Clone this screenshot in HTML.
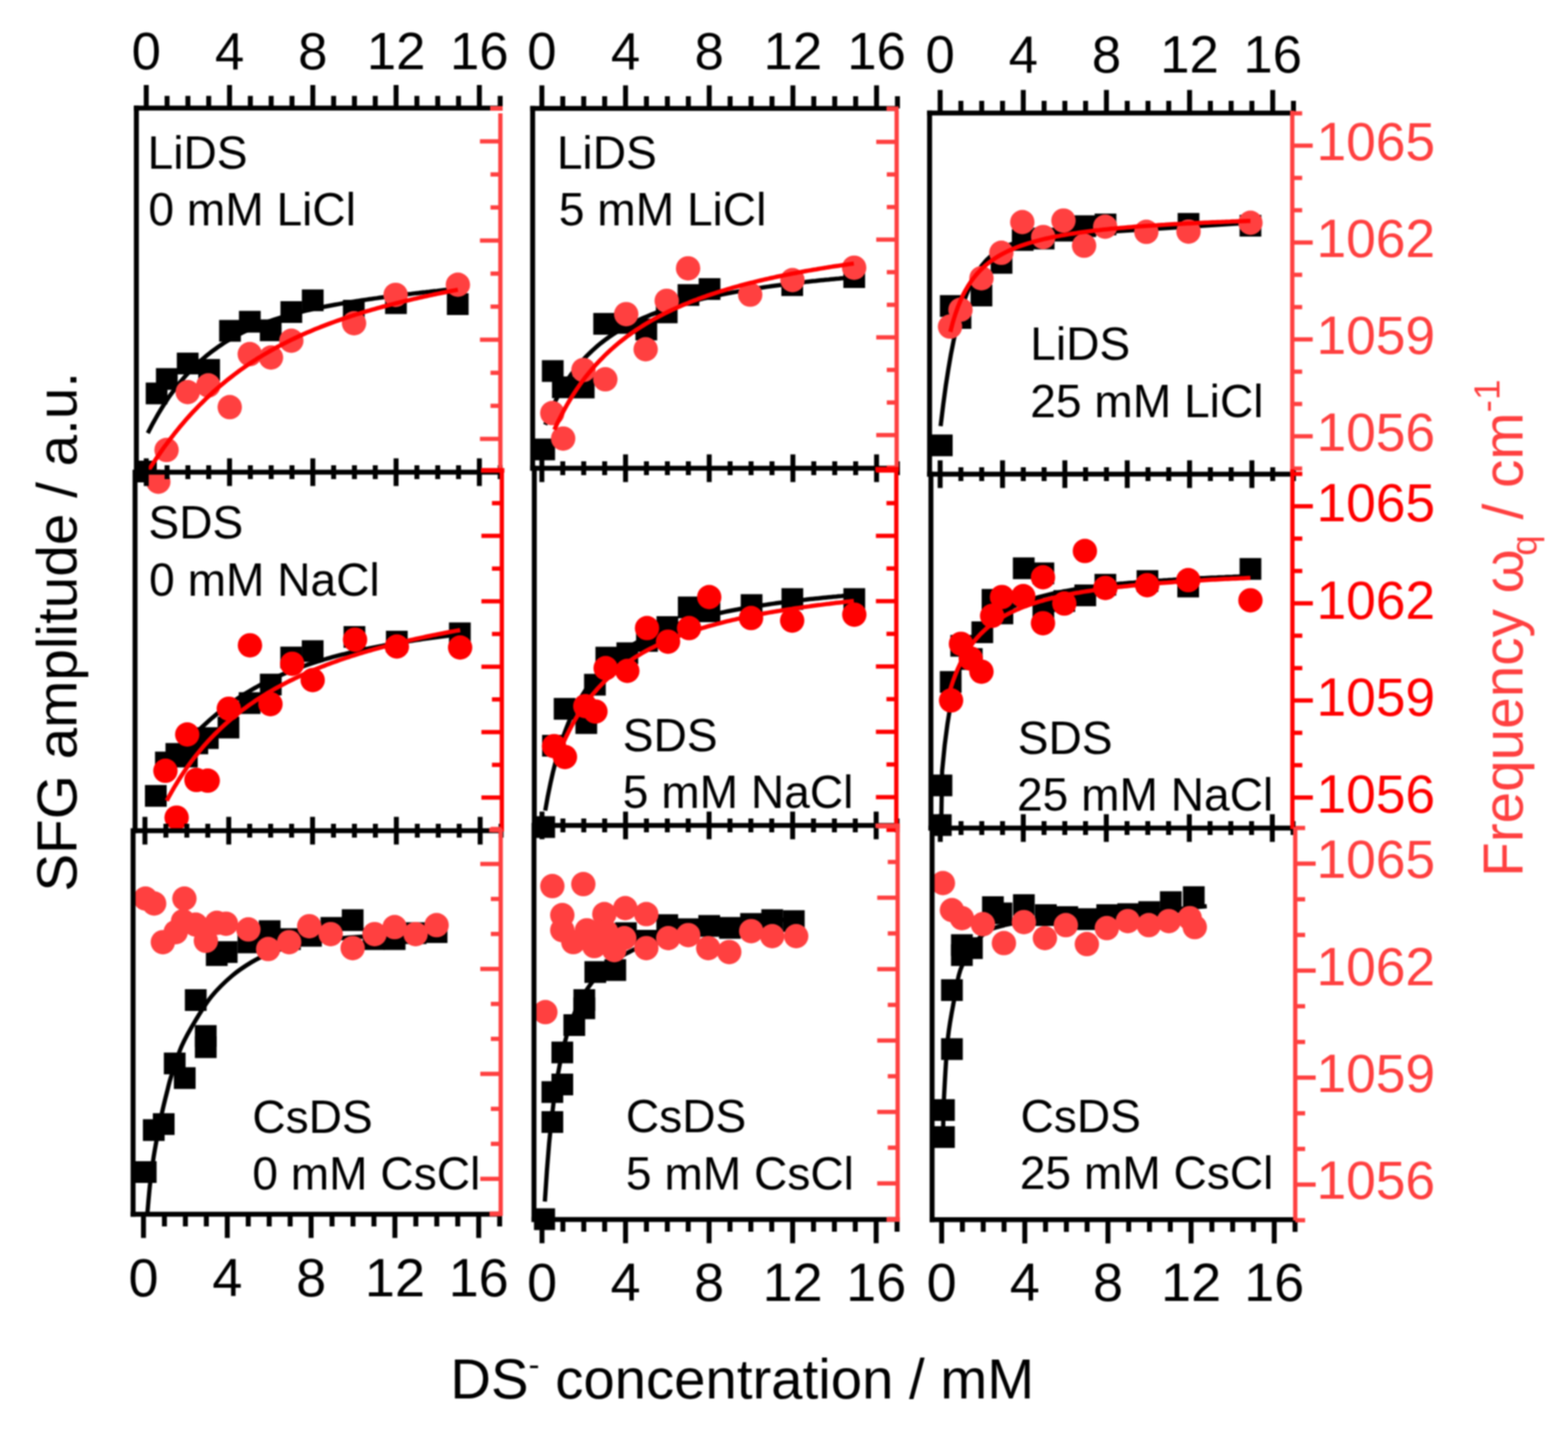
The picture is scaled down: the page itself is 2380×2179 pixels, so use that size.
<!DOCTYPE html><html><head><meta charset="utf-8"><style>html,body{margin:0;padding:0;background:#fff}svg{display:block;filter:blur(0.8px)}</style></head><body><svg width="2380" height="2179" viewBox="0 0 2380 2179" font-family="'Liberation Sans', Arial, sans-serif">
<rect width="2380" height="2179" fill="#fff"/>
<clipPath id="clip-P11"><rect x="207" y="124" width="592.5" height="632.5"/></clipPath>
<g clip-path="url(#clip-P11)">
<rect x="205.0" y="699.0" width="33" height="33" fill="#000"/>
<rect x="221.2" y="580.5" width="33" height="33" fill="#000"/>
<rect x="236.7" y="558.6" width="33" height="33" fill="#000"/>
<rect x="268.4" y="535.1" width="33" height="33" fill="#000"/>
<rect x="300.9" y="544.8" width="33" height="33" fill="#000"/>
<rect x="332.6" y="485.5" width="33" height="33" fill="#000"/>
<rect x="362.7" y="471.7" width="33" height="33" fill="#000"/>
<rect x="394.4" y="484.7" width="33" height="33" fill="#000"/>
<rect x="425.7" y="457.0" width="33" height="33" fill="#000"/>
<rect x="458.2" y="439.2" width="33" height="33" fill="#000"/>
<rect x="520.5" y="455.0" width="33" height="33" fill="#000"/>
<rect x="584.5" y="443.5" width="33" height="33" fill="#000"/>
<rect x="678.3" y="445.0" width="33" height="33" fill="#000"/>
<path d="M224.3,657.3 L228.3,649.6 L232.2,642.1 L236.2,635.0 L240.1,628.1 L244.1,621.5 L248.0,615.2 L252.0,609.1 L255.9,603.2 L259.9,597.6 L263.9,592.2 L267.8,587.0 L271.8,582.1 L275.7,577.3 L279.7,572.7 L283.6,568.2 L287.6,564.0 L291.5,559.9 L295.5,555.9 L299.5,552.1 L303.4,548.5 L307.4,545.0 L311.3,541.6 L315.3,538.3 L319.2,535.2 L323.2,532.2 L327.1,529.3 L331.1,526.4 L335.1,523.7 L339.0,521.1 L343.0,518.6 L346.9,516.2 L350.9,513.9 L354.8,511.6 L358.8,509.4 L362.7,507.4 L366.7,505.3 L370.7,503.4 L374.6,501.5 L378.6,499.7 L382.5,497.9 L386.5,496.2 L390.4,494.5 L394.4,492.9 L398.3,491.4 L402.3,489.9 L406.3,488.4 L410.2,487.0 L414.2,485.7 L418.1,484.4 L422.1,483.1 L426.0,481.8 L430.0,480.6 L433.9,479.5 L437.9,478.3 L441.9,477.2 L445.8,476.1 L449.8,475.1 L453.7,474.1 L457.7,473.1 L461.6,472.1 L465.6,471.2 L469.5,470.3 L473.5,469.4 L477.4,468.5 L481.4,467.7 L485.4,466.8 L489.3,466.0 L493.3,465.3 L497.2,464.5 L501.2,463.7 L505.1,463.0 L509.1,462.3 L513.0,461.6 L517.0,460.9 L521.0,460.2 L524.9,459.5 L528.9,458.9 L532.8,458.2 L536.8,457.6 L540.7,457.0 L544.7,456.4 L548.6,455.8 L552.6,455.2 L556.6,454.6 L560.5,454.0 L564.5,453.5 L568.4,452.9 L572.4,452.4 L576.3,451.8 L580.3,451.3 L584.2,450.8 L588.2,450.3 L592.2,449.7 L596.1,449.2 L600.1,448.7 L604.0,448.2 L608.0,447.8 L611.9,447.3 L615.9,446.8 L619.8,446.3 L623.8,445.9 L627.8,445.4 L631.7,444.9 L635.7,444.5 L639.6,444.0 L643.6,443.6 L647.5,443.1 L651.5,442.7 L655.4,442.2 L659.4,441.8 L663.4,441.4 L667.3,440.9 L671.3,440.5 L675.2,440.1 L679.2,439.7 L683.1,439.3 L687.1,438.8 L691.0,438.4 L695.0,438.0" fill="none" stroke="#000" stroke-width="6.5" stroke-linecap="butt" stroke-linejoin="round"/>
<circle cx="240.3" cy="731.0" r="18.5" fill="#ff4040"/>
<circle cx="252.8" cy="682.8" r="18.5" fill="#ff4040"/>
<circle cx="284.9" cy="595.0" r="18.5" fill="#ff4040"/>
<circle cx="316.2" cy="584.8" r="18.5" fill="#ff4040"/>
<circle cx="348.7" cy="617.8" r="18.5" fill="#ff4040"/>
<circle cx="379.1" cy="537.3" r="18.5" fill="#ff4040"/>
<circle cx="411.3" cy="542.5" r="18.5" fill="#ff4040"/>
<circle cx="442.2" cy="517.0" r="18.5" fill="#ff4040"/>
<circle cx="537.4" cy="490.5" r="18.5" fill="#ff4040"/>
<circle cx="600.5" cy="447.4" r="18.5" fill="#ff4040"/>
<circle cx="695.0" cy="432.0" r="18.5" fill="#ff4040"/>
<path d="M226.0,713.0 L229.9,706.8 L233.9,700.8 L237.8,694.9 L241.8,689.1 L245.7,683.4 L249.6,677.9 L253.6,672.6 L257.5,667.3 L261.5,662.2 L265.4,657.1 L269.4,652.2 L273.3,647.4 L277.2,642.8 L281.2,638.2 L285.1,633.7 L289.1,629.3 L293.0,625.0 L296.9,620.9 L300.9,616.8 L304.8,612.8 L308.8,608.9 L312.7,605.0 L316.6,601.3 L320.6,597.6 L324.5,594.0 L328.5,590.5 L332.4,587.1 L336.4,583.8 L340.3,580.5 L344.2,577.3 L348.2,574.1 L352.1,571.1 L356.1,568.0 L360.0,565.1 L363.9,562.2 L367.9,559.4 L371.8,556.6 L375.8,553.9 L379.7,551.3 L383.6,548.7 L387.6,546.1 L391.5,543.6 L395.5,541.2 L399.4,538.8 L403.4,536.5 L407.3,534.2 L411.2,531.9 L415.2,529.7 L419.1,527.5 L423.1,525.4 L427.0,523.3 L430.9,521.3 L434.9,519.3 L438.8,517.3 L442.8,515.4 L446.7,513.5 L450.6,511.7 L454.6,509.8 L458.5,508.1 L462.5,506.3 L466.4,504.6 L470.4,502.9 L474.3,501.2 L478.2,499.6 L482.2,498.0 L486.1,496.4 L490.1,494.9 L494.0,493.4 L497.9,491.9 L501.9,490.4 L505.8,489.0 L509.8,487.5 L513.7,486.1 L517.6,484.8 L521.6,483.4 L525.5,482.1 L529.5,480.8 L533.4,479.5 L537.4,478.2 L541.3,477.0 L545.2,475.8 L549.2,474.6 L553.1,473.4 L557.1,472.2 L561.0,471.1 L564.9,469.9 L568.9,468.8 L572.8,467.7 L576.8,466.6 L580.7,465.5 L584.6,464.5 L588.6,463.4 L592.5,462.4 L596.5,461.4 L600.4,460.4 L604.4,459.4 L608.3,458.4 L612.2,457.4 L616.2,456.5 L620.1,455.6 L624.1,454.6 L628.0,453.7 L631.9,452.8 L635.9,451.9 L639.8,451.0 L643.8,450.1 L647.7,449.3 L651.6,448.4 L655.6,447.6 L659.5,446.7 L663.5,445.9 L667.4,445.1 L671.4,444.3 L675.3,443.5 L679.2,442.7 L683.2,441.9 L687.1,441.1 L691.1,440.4 L695.0,439.6" fill="none" stroke="#ff0000" stroke-width="6.5" stroke-linecap="butt" stroke-linejoin="round"/>
</g>
<clipPath id="clip-P12"><rect x="808.5" y="124.5" width="592.5" height="626.0"/></clipPath>
<g clip-path="url(#clip-P12)">
<rect x="809.5" y="665.5" width="33" height="33" fill="#000"/>
<rect x="822.5" y="546.5" width="33" height="33" fill="#000"/>
<rect x="837.8" y="571.2" width="33" height="33" fill="#000"/>
<rect x="869.5" y="571.5" width="33" height="33" fill="#000"/>
<rect x="900.5" y="474.9" width="33" height="33" fill="#000"/>
<rect x="932.5" y="473.5" width="33" height="33" fill="#000"/>
<rect x="964.5" y="483.5" width="33" height="33" fill="#000"/>
<rect x="995.5" y="457.5" width="33" height="33" fill="#000"/>
<rect x="1028.5" y="431.2" width="33" height="33" fill="#000"/>
<rect x="1060.5" y="422.1" width="33" height="33" fill="#000"/>
<rect x="1186.0" y="416.2" width="33" height="33" fill="#000"/>
<rect x="1280.1" y="404.0" width="33" height="33" fill="#000"/>
<path d="M827.6,644.5 L831.5,634.3 L835.5,624.9 L839.4,616.1 L843.4,607.8 L847.3,600.2 L851.3,593.0 L855.2,586.2 L859.2,579.9 L863.1,573.9 L867.0,568.2 L871.0,562.9 L874.9,557.8 L878.9,553.0 L882.8,548.5 L886.8,544.2 L890.7,540.0 L894.7,536.1 L898.6,532.3 L902.5,528.8 L906.5,525.3 L910.4,522.1 L914.4,518.9 L918.3,515.9 L922.3,513.0 L926.2,510.2 L930.2,507.6 L934.1,505.0 L938.0,502.5 L942.0,500.1 L945.9,497.8 L949.9,495.6 L953.8,493.5 L957.8,491.4 L961.7,489.4 L965.7,487.5 L969.6,485.6 L973.5,483.8 L977.5,482.1 L981.4,480.4 L985.4,478.7 L989.3,477.1 L993.3,475.6 L997.2,474.1 L1001.2,472.6 L1005.1,471.2 L1009.0,469.8 L1013.0,468.5 L1016.9,467.2 L1020.9,465.9 L1024.8,464.7 L1028.8,463.4 L1032.7,462.3 L1036.7,461.1 L1040.6,460.0 L1044.5,458.9 L1048.5,457.9 L1052.4,456.8 L1056.4,455.8 L1060.3,454.8 L1064.3,453.9 L1068.2,452.9 L1072.2,452.0 L1076.1,451.1 L1080.1,450.2 L1084.0,449.4 L1087.9,448.5 L1091.9,447.7 L1095.8,446.9 L1099.8,446.1 L1103.7,445.3 L1107.7,444.6 L1111.6,443.8 L1115.6,443.1 L1119.5,442.4 L1123.4,441.7 L1127.4,441.0 L1131.3,440.3 L1135.3,439.7 L1139.2,439.0 L1143.2,438.4 L1147.1,437.8 L1151.1,437.2 L1155.0,436.6 L1158.9,436.0 L1162.9,435.4 L1166.8,434.9 L1170.8,434.3 L1174.7,433.8 L1178.7,433.2 L1182.6,432.7 L1186.6,432.2 L1190.5,431.7 L1194.4,431.2 L1198.4,430.7 L1202.3,430.2 L1206.3,429.7 L1210.2,429.2 L1214.2,428.8 L1218.1,428.3 L1222.1,427.9 L1226.0,427.4 L1229.9,427.0 L1233.9,426.6 L1237.8,426.2 L1241.8,425.7 L1245.7,425.3 L1249.7,424.9 L1253.6,424.5 L1257.6,424.2 L1261.5,423.8 L1265.4,423.4 L1269.4,423.0 L1273.3,422.7 L1277.3,422.3 L1281.2,421.9 L1285.2,421.6 L1289.1,421.2 L1293.1,420.9 L1297.0,420.6" fill="none" stroke="#000" stroke-width="6.5" stroke-linecap="butt" stroke-linejoin="round"/>
<circle cx="838.3" cy="626.8" r="18.5" fill="#ff4040"/>
<circle cx="854.8" cy="665.4" r="18.5" fill="#ff4040"/>
<circle cx="885.6" cy="561.4" r="18.5" fill="#ff4040"/>
<circle cx="918.8" cy="575.6" r="18.5" fill="#ff4040"/>
<circle cx="950.5" cy="476.7" r="18.5" fill="#ff4040"/>
<circle cx="980.0" cy="530.0" r="18.5" fill="#ff4040"/>
<circle cx="1012.0" cy="456.4" r="18.5" fill="#ff4040"/>
<circle cx="1044.4" cy="407.2" r="18.5" fill="#ff4040"/>
<circle cx="1138.7" cy="447.1" r="18.5" fill="#ff4040"/>
<circle cx="1202.9" cy="425.0" r="18.5" fill="#ff4040"/>
<circle cx="1296.5" cy="406.2" r="18.5" fill="#ff4040"/>
<path d="M841.4,652.0 L845.2,643.8 L849.0,636.0 L852.9,628.5 L856.7,621.3 L860.5,614.5 L864.3,608.0 L868.1,601.7 L872.0,595.8 L875.8,590.0 L879.6,584.5 L883.4,579.2 L887.2,574.1 L891.1,569.2 L894.9,564.5 L898.7,560.0 L902.5,555.6 L906.3,551.4 L910.2,547.3 L914.0,543.4 L917.8,539.5 L921.6,535.9 L925.4,532.3 L929.3,528.9 L933.1,525.5 L936.9,522.3 L940.7,519.1 L944.5,516.1 L948.4,513.1 L952.2,510.2 L956.0,507.5 L959.8,504.7 L963.6,502.1 L967.5,499.6 L971.3,497.1 L975.1,494.6 L978.9,492.3 L982.7,490.0 L986.6,487.7 L990.4,485.5 L994.2,483.4 L998.0,481.3 L1001.8,479.3 L1005.7,477.3 L1009.5,475.4 L1013.3,473.5 L1017.1,471.7 L1020.9,469.9 L1024.8,468.1 L1028.6,466.4 L1032.4,464.7 L1036.2,463.1 L1040.0,461.5 L1043.9,459.9 L1047.7,458.3 L1051.5,456.8 L1055.3,455.4 L1059.1,453.9 L1063.0,452.5 L1066.8,451.1 L1070.6,449.8 L1074.4,448.4 L1078.3,447.1 L1082.1,445.8 L1085.9,444.6 L1089.7,443.3 L1093.5,442.1 L1097.4,441.0 L1101.2,439.8 L1105.0,438.6 L1108.8,437.5 L1112.6,436.4 L1116.5,435.3 L1120.3,434.3 L1124.1,433.2 L1127.9,432.2 L1131.7,431.2 L1135.6,430.2 L1139.4,429.2 L1143.2,428.3 L1147.0,427.3 L1150.8,426.4 L1154.7,425.5 L1158.5,424.6 L1162.3,423.7 L1166.1,422.9 L1169.9,422.0 L1173.8,421.2 L1177.6,420.3 L1181.4,419.5 L1185.2,418.7 L1189.0,417.9 L1192.9,417.1 L1196.7,416.4 L1200.5,415.6 L1204.3,414.9 L1208.1,414.2 L1212.0,413.4 L1215.8,412.7 L1219.6,412.0 L1223.4,411.3 L1227.2,410.6 L1231.1,410.0 L1234.9,409.3 L1238.7,408.7 L1242.5,408.0 L1246.3,407.4 L1250.2,406.8 L1254.0,406.1 L1257.8,405.5 L1261.6,404.9 L1265.4,404.3 L1269.3,403.7 L1273.1,403.2 L1276.9,402.6 L1280.7,402.0 L1284.5,401.5 L1288.4,400.9 L1292.2,400.4 L1296.0,399.9" fill="none" stroke="#ff0000" stroke-width="6.5" stroke-linecap="butt" stroke-linejoin="round"/>
</g>
<clipPath id="clip-P13"><rect x="1411" y="128" width="590.5" height="628.0"/></clipPath>
<g clip-path="url(#clip-P13)">
<rect x="1413.0" y="659.3" width="33" height="33" fill="#000"/>
<rect x="1426.6" y="447.8" width="33" height="33" fill="#000"/>
<rect x="1441.4" y="466.0" width="33" height="33" fill="#000"/>
<rect x="1473.2" y="431.9" width="33" height="33" fill="#000"/>
<rect x="1503.7" y="382.4" width="33" height="33" fill="#000"/>
<rect x="1535.8" y="347.7" width="33" height="33" fill="#000"/>
<rect x="1567.6" y="345.5" width="33" height="33" fill="#000"/>
<rect x="1599.5" y="333.5" width="33" height="33" fill="#000"/>
<rect x="1630.7" y="326.7" width="33" height="33" fill="#000"/>
<rect x="1661.5" y="324.1" width="33" height="33" fill="#000"/>
<rect x="1787.5" y="323.2" width="33" height="33" fill="#000"/>
<rect x="1881.5" y="326.0" width="33" height="33" fill="#000"/>
<path d="M1427.7,646.6 L1431.7,613.9 L1435.6,585.0 L1439.6,559.4 L1443.5,536.8 L1447.5,516.7 L1451.4,499.0 L1455.4,483.3 L1459.3,469.4 L1463.3,457.1 L1467.2,446.2 L1471.2,436.5 L1475.1,428.0 L1479.1,420.3 L1483.0,413.6 L1487.0,407.6 L1490.9,402.3 L1494.9,397.5 L1498.8,393.3 L1502.8,389.6 L1506.7,386.2 L1510.7,383.3 L1514.6,380.6 L1518.6,378.2 L1522.6,376.1 L1526.5,374.1 L1530.5,372.4 L1534.4,370.9 L1538.4,369.5 L1542.3,368.2 L1546.3,367.1 L1550.2,366.0 L1554.2,365.1 L1558.1,364.2 L1562.1,363.4 L1566.0,362.7 L1570.0,362.0 L1573.9,361.3 L1577.9,360.8 L1581.8,360.2 L1585.8,359.7 L1589.7,359.2 L1593.7,358.8 L1597.6,358.3 L1601.6,357.9 L1605.5,357.5 L1609.5,357.2 L1613.4,356.8 L1617.4,356.5 L1621.4,356.1 L1625.3,355.8 L1629.3,355.5 L1633.2,355.2 L1637.2,354.9 L1641.1,354.6 L1645.1,354.3 L1649.0,354.0 L1653.0,353.7 L1656.9,353.4 L1660.9,353.2 L1664.8,352.9 L1668.8,352.6 L1672.7,352.4 L1676.7,352.1 L1680.6,351.8 L1684.6,351.6 L1688.5,351.3 L1692.5,351.0 L1696.4,350.8 L1700.4,350.5 L1704.3,350.3 L1708.3,350.0 L1712.3,349.8 L1716.2,349.5 L1720.2,349.3 L1724.1,349.0 L1728.1,348.7 L1732.0,348.5 L1736.0,348.2 L1739.9,348.0 L1743.9,347.7 L1747.8,347.5 L1751.8,347.2 L1755.7,347.0 L1759.7,346.7 L1763.6,346.5 L1767.6,346.2 L1771.5,346.0 L1775.5,345.7 L1779.4,345.5 L1783.4,345.2 L1787.3,345.0 L1791.3,344.7 L1795.2,344.5 L1799.2,344.2 L1803.1,344.0 L1807.1,343.7 L1811.1,343.5 L1815.0,343.2 L1819.0,343.0 L1822.9,342.7 L1826.9,342.5 L1830.8,342.2 L1834.8,342.0 L1838.7,341.7 L1842.7,341.5 L1846.6,341.2 L1850.6,341.0 L1854.5,340.7 L1858.5,340.5 L1862.4,340.2 L1866.4,340.0 L1870.3,339.7 L1874.3,339.5 L1878.2,339.2 L1882.2,339.0 L1886.1,338.7 L1890.1,338.5 L1894.0,338.2 L1898.0,338.0" fill="none" stroke="#000" stroke-width="6.5" stroke-linecap="butt" stroke-linejoin="round"/>
<circle cx="1442.0" cy="495.6" r="18.5" fill="#ff4040"/>
<circle cx="1457.9" cy="470.0" r="18.5" fill="#ff4040"/>
<circle cx="1489.7" cy="422.2" r="18.5" fill="#ff4040"/>
<circle cx="1519.9" cy="383.6" r="18.5" fill="#ff4040"/>
<circle cx="1551.7" cy="337.0" r="18.5" fill="#ff4040"/>
<circle cx="1583.5" cy="359.7" r="18.5" fill="#ff4040"/>
<circle cx="1614.2" cy="334.7" r="18.5" fill="#ff4040"/>
<circle cx="1645.5" cy="372.8" r="18.5" fill="#ff4040"/>
<circle cx="1677.5" cy="344.0" r="18.5" fill="#ff4040"/>
<circle cx="1740.0" cy="351.8" r="18.5" fill="#ff4040"/>
<circle cx="1804.0" cy="351.4" r="18.5" fill="#ff4040"/>
<circle cx="1898.0" cy="338.0" r="18.5" fill="#ff4040"/>
<path d="M1442.5,503.6 L1446.3,488.9 L1450.2,476.4 L1454.0,465.6 L1457.8,456.2 L1461.6,447.9 L1465.5,440.6 L1469.3,434.1 L1473.1,428.2 L1476.9,422.9 L1480.8,418.0 L1484.6,413.7 L1488.4,409.6 L1492.3,405.9 L1496.1,402.5 L1499.9,399.4 L1503.7,396.5 L1507.6,393.8 L1511.4,391.2 L1515.2,388.9 L1519.1,386.6 L1522.9,384.6 L1526.7,382.6 L1530.5,380.8 L1534.4,379.0 L1538.2,377.4 L1542.0,375.8 L1545.8,374.3 L1549.7,372.9 L1553.5,371.6 L1557.3,370.3 L1561.2,369.1 L1565.0,368.0 L1568.8,366.9 L1572.6,365.8 L1576.5,364.8 L1580.3,363.8 L1584.1,362.9 L1588.0,362.0 L1591.8,361.2 L1595.6,360.3 L1599.4,359.5 L1603.3,358.8 L1607.1,358.1 L1610.9,357.3 L1614.7,356.7 L1618.6,356.0 L1622.4,355.4 L1626.2,354.8 L1630.1,354.2 L1633.9,353.6 L1637.7,353.0 L1641.5,352.5 L1645.4,352.0 L1649.2,351.5 L1653.0,351.0 L1656.9,350.5 L1660.7,350.0 L1664.5,349.6 L1668.3,349.2 L1672.2,348.7 L1676.0,348.3 L1679.8,347.9 L1683.6,347.5 L1687.5,347.1 L1691.3,346.8 L1695.1,346.4 L1699.0,346.1 L1702.8,345.7 L1706.6,345.4 L1710.4,345.1 L1714.3,344.7 L1718.1,344.4 L1721.9,344.1 L1725.8,343.8 L1729.6,343.5 L1733.4,343.3 L1737.2,343.0 L1741.1,342.7 L1744.9,342.4 L1748.7,342.2 L1752.5,341.9 L1756.4,341.7 L1760.2,341.4 L1764.0,341.2 L1767.9,341.0 L1771.7,340.7 L1775.5,340.5 L1779.3,340.3 L1783.2,340.1 L1787.0,339.9 L1790.8,339.7 L1794.7,339.5 L1798.5,339.3 L1802.3,339.1 L1806.1,338.9 L1810.0,338.7 L1813.8,338.5 L1817.6,338.3 L1821.4,338.2 L1825.3,338.0 L1829.1,337.8 L1832.9,337.7 L1836.8,337.5 L1840.6,337.3 L1844.4,337.2 L1848.2,337.0 L1852.1,336.9 L1855.9,336.7 L1859.7,336.6 L1863.6,336.4 L1867.4,336.3 L1871.2,336.1 L1875.0,336.0 L1878.9,335.8 L1882.7,335.7 L1886.5,335.6 L1890.3,335.4 L1894.2,335.3 L1898.0,335.2" fill="none" stroke="#ff0000" stroke-width="6.5" stroke-linecap="butt" stroke-linejoin="round"/>
</g>
<clipPath id="clip-P21"><rect x="205" y="672" width="596.7" height="624.0"/></clipPath>
<g clip-path="url(#clip-P21)">
<rect x="220.0" y="1191.2" width="33" height="33" fill="#000"/>
<rect x="235.3" y="1140.5" width="33" height="33" fill="#000"/>
<rect x="251.2" y="1127.5" width="33" height="33" fill="#000"/>
<rect x="267.1" y="1131.5" width="33" height="33" fill="#000"/>
<rect x="283.0" y="1111.5" width="33" height="33" fill="#000"/>
<rect x="298.9" y="1103.5" width="33" height="33" fill="#000"/>
<rect x="330.3" y="1087.5" width="33" height="33" fill="#000"/>
<rect x="362.4" y="1050.4" width="33" height="33" fill="#000"/>
<rect x="394.5" y="1022.3" width="33" height="33" fill="#000"/>
<rect x="425.5" y="981.2" width="33" height="33" fill="#000"/>
<rect x="458.1" y="971.5" width="33" height="33" fill="#000"/>
<rect x="521.5" y="950.0" width="33" height="33" fill="#000"/>
<rect x="585.8" y="957.1" width="33" height="33" fill="#000"/>
<rect x="681.5" y="944.5" width="33" height="33" fill="#000"/>
<path d="M246.0,1175.6 L249.8,1170.1 L253.6,1164.8 L257.4,1159.6 L261.2,1154.5 L265.0,1149.6 L268.8,1144.8 L272.6,1140.1 L276.4,1135.6 L280.2,1131.2 L284.0,1126.8 L287.8,1122.6 L291.6,1118.5 L295.4,1114.6 L299.2,1110.7 L303.0,1106.9 L306.8,1103.2 L310.6,1099.6 L314.4,1096.1 L318.2,1092.7 L322.0,1089.4 L325.8,1086.2 L329.6,1083.0 L333.4,1079.9 L337.2,1076.9 L341.0,1074.0 L344.8,1071.2 L348.6,1068.4 L352.4,1065.7 L356.2,1063.0 L359.9,1060.5 L363.7,1058.0 L367.5,1055.5 L371.3,1053.1 L375.1,1050.8 L378.9,1048.5 L382.7,1046.3 L386.5,1044.1 L390.3,1042.0 L394.1,1040.0 L397.9,1038.0 L401.7,1036.0 L405.5,1034.1 L409.3,1032.2 L413.1,1030.4 L416.9,1028.6 L420.7,1026.9 L424.5,1025.2 L428.3,1023.5 L432.1,1021.9 L435.9,1020.3 L439.7,1018.8 L443.5,1017.3 L447.3,1015.8 L451.1,1014.4 L454.9,1013.0 L458.7,1011.6 L462.5,1010.2 L466.3,1008.9 L470.1,1007.6 L473.9,1006.4 L477.7,1005.2 L481.5,1003.9 L485.3,1002.8 L489.1,1001.6 L492.9,1000.5 L496.7,999.4 L500.5,998.3 L504.3,997.2 L508.1,996.2 L511.9,995.2 L515.7,994.2 L519.5,993.2 L523.3,992.3 L527.1,991.3 L530.9,990.4 L534.7,989.5 L538.5,988.6 L542.3,987.8 L546.1,986.9 L549.9,986.1 L553.7,985.3 L557.5,984.5 L561.3,983.7 L565.1,982.9 L568.9,982.1 L572.7,981.4 L576.5,980.7 L580.3,980.0 L584.1,979.2 L587.8,978.6 L591.6,977.9 L595.4,977.2 L599.2,976.5 L603.0,975.9 L606.8,975.3 L610.6,974.6 L614.4,974.0 L618.2,973.4 L622.0,972.8 L625.8,972.2 L629.6,971.6 L633.4,971.1 L637.2,970.5 L641.0,969.9 L644.8,969.4 L648.6,968.9 L652.4,968.3 L656.2,967.8 L660.0,967.3 L663.8,966.8 L667.6,966.3 L671.4,965.8 L675.2,965.3 L679.0,964.8 L682.8,964.3 L686.6,963.8 L690.4,963.4 L694.2,962.9 L698.0,962.5" fill="none" stroke="#000" stroke-width="6.5" stroke-linecap="butt" stroke-linejoin="round"/>
<circle cx="251.1" cy="1169.6" r="18.5" fill="#ff0000"/>
<circle cx="268.1" cy="1240.7" r="18.5" fill="#ff0000"/>
<circle cx="284.2" cy="1114.5" r="18.5" fill="#ff0000"/>
<circle cx="298.2" cy="1183.6" r="18.5" fill="#ff0000"/>
<circle cx="315.3" cy="1184.6" r="18.5" fill="#ff0000"/>
<circle cx="347.3" cy="1075.4" r="18.5" fill="#ff0000"/>
<circle cx="379.4" cy="979.2" r="18.5" fill="#ff0000"/>
<circle cx="410.5" cy="1068.4" r="18.5" fill="#ff0000"/>
<circle cx="443.5" cy="1007.2" r="18.5" fill="#ff0000"/>
<circle cx="474.6" cy="1032.0" r="18.5" fill="#ff0000"/>
<circle cx="538.9" cy="970.7" r="18.5" fill="#ff0000"/>
<circle cx="602.4" cy="981.0" r="18.5" fill="#ff0000"/>
<circle cx="698.4" cy="982.5" r="18.5" fill="#ff0000"/>
<path d="M253.1,1215.1 L256.8,1208.1 L260.6,1201.4 L264.3,1194.9 L268.1,1188.7 L271.8,1182.6 L275.6,1176.8 L279.3,1171.2 L283.0,1165.7 L286.8,1160.5 L290.5,1155.4 L294.3,1150.4 L298.0,1145.7 L301.8,1141.0 L305.5,1136.5 L309.2,1132.2 L313.0,1127.9 L316.7,1123.8 L320.5,1119.8 L324.2,1115.9 L328.0,1112.1 L331.7,1108.5 L335.4,1104.9 L339.2,1101.4 L342.9,1098.0 L346.7,1094.7 L350.4,1091.5 L354.2,1088.3 L357.9,1085.3 L361.6,1082.3 L365.4,1079.4 L369.1,1076.5 L372.9,1073.8 L376.6,1071.0 L380.4,1068.4 L384.1,1065.8 L387.8,1063.3 L391.6,1060.8 L395.3,1058.4 L399.1,1056.0 L402.8,1053.7 L406.6,1051.4 L410.3,1049.2 L414.0,1047.0 L417.8,1044.9 L421.5,1042.8 L425.3,1040.8 L429.0,1038.8 L432.8,1036.8 L436.5,1034.9 L440.2,1033.0 L444.0,1031.2 L447.7,1029.4 L451.5,1027.6 L455.2,1025.8 L459.0,1024.1 L462.7,1022.5 L466.4,1020.8 L470.2,1019.2 L473.9,1017.6 L477.7,1016.0 L481.4,1014.5 L485.2,1013.0 L488.9,1011.5 L492.6,1010.1 L496.4,1008.6 L500.1,1007.2 L503.9,1005.8 L507.6,1004.5 L511.4,1003.1 L515.1,1001.8 L518.8,1000.5 L522.6,999.2 L526.3,998.0 L530.1,996.8 L533.8,995.5 L537.6,994.3 L541.3,993.2 L545.0,992.0 L548.8,990.9 L552.5,989.7 L556.3,988.6 L560.0,987.5 L563.8,986.5 L567.5,985.4 L571.2,984.4 L575.0,983.3 L578.7,982.3 L582.5,981.3 L586.2,980.3 L590.0,979.4 L593.7,978.4 L597.4,977.5 L601.2,976.5 L604.9,975.6 L608.7,974.7 L612.4,973.8 L616.2,972.9 L619.9,972.0 L623.6,971.2 L627.4,970.3 L631.1,969.5 L634.9,968.7 L638.6,967.9 L642.4,967.1 L646.1,966.3 L649.8,965.5 L653.6,964.7 L657.3,963.9 L661.1,963.2 L664.8,962.4 L668.6,961.7 L672.3,961.0 L676.0,960.2 L679.8,959.5 L683.5,958.8 L687.3,958.1 L691.0,957.4 L694.8,956.8 L698.5,956.1" fill="none" stroke="#ff0000" stroke-width="6.5" stroke-linecap="butt" stroke-linejoin="round"/>
</g>
<clipPath id="clip-P22"><rect x="811" y="670" width="589.5" height="622.0"/></clipPath>
<g clip-path="url(#clip-P22)">
<rect x="809.5" y="1238.5" width="33" height="33" fill="#000"/>
<rect x="822.8" y="1115.1" width="33" height="33" fill="#000"/>
<rect x="840.5" y="1059.1" width="33" height="33" fill="#000"/>
<rect x="873.4" y="1080.7" width="33" height="33" fill="#000"/>
<rect x="886.5" y="1022.5" width="33" height="33" fill="#000"/>
<rect x="903.8" y="981.4" width="33" height="33" fill="#000"/>
<rect x="935.7" y="974.7" width="33" height="33" fill="#000"/>
<rect x="965.5" y="956.1" width="33" height="33" fill="#000"/>
<rect x="996.5" y="935.0" width="33" height="33" fill="#000"/>
<rect x="1028.9" y="905.2" width="33" height="33" fill="#000"/>
<rect x="1060.3" y="911.1" width="33" height="33" fill="#000"/>
<rect x="1124.3" y="901.6" width="33" height="33" fill="#000"/>
<rect x="1186.2" y="892.5" width="33" height="33" fill="#000"/>
<rect x="1280.2" y="892.5" width="33" height="33" fill="#000"/>
<path d="M827.6,1230.0 L831.5,1208.1 L835.5,1188.7 L839.4,1171.3 L843.4,1155.7 L847.3,1141.5 L851.3,1128.7 L855.2,1117.0 L859.2,1106.2 L863.1,1096.3 L867.0,1087.2 L871.0,1078.7 L874.9,1070.8 L878.9,1063.5 L882.8,1056.7 L886.8,1050.3 L890.7,1044.3 L894.7,1038.7 L898.6,1033.4 L902.5,1028.4 L906.5,1023.7 L910.4,1019.3 L914.4,1015.0 L918.3,1011.0 L922.3,1007.2 L926.2,1003.6 L930.2,1000.1 L934.1,996.9 L938.0,993.7 L942.0,990.7 L945.9,987.9 L949.9,985.1 L953.8,982.5 L957.8,980.0 L961.7,977.5 L965.7,975.2 L969.6,973.0 L973.5,970.8 L977.5,968.7 L981.4,966.7 L985.4,964.8 L989.3,962.9 L993.3,961.2 L997.2,959.4 L1001.2,957.7 L1005.1,956.1 L1009.0,954.5 L1013.0,953.0 L1016.9,951.6 L1020.9,950.1 L1024.8,948.7 L1028.8,947.4 L1032.7,946.1 L1036.7,944.8 L1040.6,943.6 L1044.5,942.4 L1048.5,941.3 L1052.4,940.1 L1056.4,939.0 L1060.3,938.0 L1064.3,936.9 L1068.2,935.9 L1072.2,934.9 L1076.1,933.9 L1080.1,933.0 L1084.0,932.1 L1087.9,931.2 L1091.9,930.3 L1095.8,929.5 L1099.8,928.6 L1103.7,927.8 L1107.7,927.0 L1111.6,926.3 L1115.6,925.5 L1119.5,924.8 L1123.4,924.0 L1127.4,923.3 L1131.3,922.6 L1135.3,922.0 L1139.2,921.3 L1143.2,920.6 L1147.1,920.0 L1151.1,919.4 L1155.0,918.8 L1158.9,918.2 L1162.9,917.6 L1166.8,917.0 L1170.8,916.4 L1174.7,915.9 L1178.7,915.3 L1182.6,914.8 L1186.6,914.3 L1190.5,913.8 L1194.4,913.3 L1198.4,912.8 L1202.3,912.3 L1206.3,911.8 L1210.2,911.3 L1214.2,910.9 L1218.1,910.4 L1222.1,910.0 L1226.0,909.5 L1229.9,909.1 L1233.9,908.7 L1237.8,908.3 L1241.8,907.9 L1245.7,907.5 L1249.7,907.1 L1253.6,906.7 L1257.6,906.3 L1261.5,905.9 L1265.4,905.5 L1269.4,905.2 L1273.3,904.8 L1277.3,904.5 L1281.2,904.1 L1285.2,903.8 L1289.1,903.4 L1293.1,903.1 L1297.0,902.8" fill="none" stroke="#000" stroke-width="6.5" stroke-linecap="butt" stroke-linejoin="round"/>
<circle cx="841.0" cy="1132.2" r="18.5" fill="#ff0000"/>
<circle cx="857.5" cy="1148.7" r="18.5" fill="#ff0000"/>
<circle cx="888.4" cy="1071.5" r="18.5" fill="#ff0000"/>
<circle cx="903.8" cy="1079.7" r="18.5" fill="#ff0000"/>
<circle cx="919.3" cy="1013.8" r="18.5" fill="#ff0000"/>
<circle cx="952.2" cy="1018.0" r="18.5" fill="#ff0000"/>
<circle cx="982.1" cy="953.1" r="18.5" fill="#ff0000"/>
<circle cx="1014.0" cy="973.7" r="18.5" fill="#ff0000"/>
<circle cx="1045.9" cy="953.1" r="18.5" fill="#ff0000"/>
<circle cx="1076.5" cy="906.0" r="18.5" fill="#ff0000"/>
<circle cx="1140.0" cy="937.8" r="18.5" fill="#ff0000"/>
<circle cx="1202.4" cy="941.7" r="18.5" fill="#ff0000"/>
<circle cx="1296.7" cy="932.7" r="18.5" fill="#ff0000"/>
<path d="M848.0,1144.2 L851.8,1134.9 L855.5,1126.2 L859.3,1118.0 L863.1,1110.3 L866.8,1103.1 L870.6,1096.2 L874.4,1089.7 L878.1,1083.5 L881.9,1077.7 L885.6,1072.1 L889.4,1066.8 L893.2,1061.8 L896.9,1056.9 L900.7,1052.3 L904.5,1048.0 L908.2,1043.7 L912.0,1039.7 L915.8,1035.9 L919.5,1032.1 L923.3,1028.6 L927.1,1025.2 L930.8,1021.9 L934.6,1018.7 L938.4,1015.7 L942.1,1012.7 L945.9,1009.9 L949.6,1007.1 L953.4,1004.5 L957.2,1001.9 L960.9,999.5 L964.7,997.1 L968.5,994.8 L972.2,992.5 L976.0,990.3 L979.8,988.2 L983.5,986.2 L987.3,984.2 L991.1,982.3 L994.8,980.4 L998.6,978.6 L1002.4,976.8 L1006.1,975.1 L1009.9,973.4 L1013.6,971.8 L1017.4,970.2 L1021.2,968.7 L1024.9,967.2 L1028.7,965.7 L1032.5,964.3 L1036.2,962.9 L1040.0,961.6 L1043.8,960.2 L1047.5,959.0 L1051.3,957.7 L1055.1,956.5 L1058.8,955.3 L1062.6,954.1 L1066.4,952.9 L1070.1,951.8 L1073.9,950.7 L1077.6,949.6 L1081.4,948.6 L1085.2,947.6 L1088.9,946.5 L1092.7,945.6 L1096.5,944.6 L1100.2,943.7 L1104.0,942.7 L1107.8,941.8 L1111.5,940.9 L1115.3,940.1 L1119.1,939.2 L1122.8,938.4 L1126.6,937.5 L1130.4,936.7 L1134.1,935.9 L1137.9,935.2 L1141.6,934.4 L1145.4,933.7 L1149.2,932.9 L1152.9,932.2 L1156.7,931.5 L1160.5,930.8 L1164.2,930.1 L1168.0,929.4 L1171.8,928.8 L1175.5,928.1 L1179.3,927.5 L1183.1,926.9 L1186.8,926.2 L1190.6,925.6 L1194.4,925.0 L1198.1,924.4 L1201.9,923.9 L1205.6,923.3 L1209.4,922.7 L1213.2,922.2 L1216.9,921.6 L1220.7,921.1 L1224.5,920.6 L1228.2,920.1 L1232.0,919.5 L1235.8,919.0 L1239.5,918.5 L1243.3,918.1 L1247.1,917.6 L1250.8,917.1 L1254.6,916.6 L1258.4,916.2 L1262.1,915.7 L1265.9,915.3 L1269.6,914.8 L1273.4,914.4 L1277.2,914.0 L1280.9,913.5 L1284.7,913.1 L1288.5,912.7 L1292.2,912.3 L1296.0,911.9" fill="none" stroke="#ff0000" stroke-width="6.5" stroke-linecap="butt" stroke-linejoin="round"/>
</g>
<clipPath id="clip-P23"><rect x="1413" y="672" width="588.7" height="617.0"/></clipPath>
<g clip-path="url(#clip-P23)">
<rect x="1411.5" y="1235.5" width="33" height="33" fill="#000"/>
<rect x="1412.5" y="1175.3" width="33" height="33" fill="#000"/>
<rect x="1426.5" y="1018.3" width="33" height="33" fill="#000"/>
<rect x="1442.5" y="963.5" width="33" height="33" fill="#000"/>
<rect x="1458.5" y="983.5" width="33" height="33" fill="#000"/>
<rect x="1474.5" y="942.9" width="33" height="33" fill="#000"/>
<rect x="1490.0" y="893.7" width="33" height="33" fill="#000"/>
<rect x="1505.0" y="914.3" width="33" height="33" fill="#000"/>
<rect x="1537.4" y="845.8" width="33" height="33" fill="#000"/>
<rect x="1567.2" y="853.5" width="33" height="33" fill="#000"/>
<rect x="1567.2" y="908.1" width="33" height="33" fill="#000"/>
<rect x="1599.0" y="895.5" width="33" height="33" fill="#000"/>
<rect x="1630.8" y="886.9" width="33" height="33" fill="#000"/>
<rect x="1661.3" y="870.8" width="33" height="33" fill="#000"/>
<rect x="1725.2" y="865.2" width="33" height="33" fill="#000"/>
<rect x="1787.0" y="873.5" width="33" height="33" fill="#000"/>
<rect x="1881.5" y="846.8" width="33" height="33" fill="#000"/>
<path d="M1428.6,1252.0 L1430.0,1170.1 L1433.9,1130.7 L1437.9,1100.1 L1441.8,1075.6 L1445.7,1055.6 L1449.7,1039.0 L1453.6,1024.9 L1457.5,1012.9 L1461.5,1002.5 L1465.4,993.3 L1469.3,985.3 L1473.3,978.1 L1477.2,971.8 L1481.1,966.0 L1485.1,960.8 L1489.0,956.1 L1492.9,951.7 L1496.9,947.8 L1500.8,944.2 L1504.7,940.8 L1508.7,937.7 L1512.6,934.8 L1516.5,932.1 L1520.5,929.6 L1524.4,927.3 L1528.3,925.1 L1532.3,923.0 L1536.2,921.0 L1540.1,919.2 L1544.1,917.5 L1548.0,915.8 L1551.9,914.3 L1555.8,912.8 L1559.8,911.4 L1563.7,910.1 L1567.6,908.8 L1571.6,907.6 L1575.5,906.5 L1579.4,905.4 L1583.4,904.3 L1587.3,903.3 L1591.2,902.4 L1595.2,901.4 L1599.1,900.5 L1603.0,899.7 L1607.0,898.9 L1610.9,898.1 L1614.8,897.3 L1618.8,896.6 L1622.7,895.9 L1626.6,895.2 L1630.6,894.5 L1634.5,893.9 L1638.4,893.3 L1642.4,892.7 L1646.3,892.1 L1650.2,891.5 L1654.2,891.0 L1658.1,890.5 L1662.0,890.0 L1666.0,889.5 L1669.9,889.0 L1673.8,888.5 L1677.8,888.1 L1681.7,887.7 L1685.6,887.2 L1689.6,886.8 L1693.5,886.4 L1697.4,886.0 L1701.4,885.6 L1705.3,885.3 L1709.2,884.9 L1713.2,884.5 L1717.1,884.2 L1721.0,883.9 L1725.0,883.5 L1728.9,883.2 L1732.8,882.9 L1736.8,882.6 L1740.7,882.3 L1744.6,882.0 L1748.6,881.7 L1752.5,881.5 L1756.4,881.2 L1760.4,880.9 L1764.3,880.7 L1768.2,880.4 L1772.2,880.2 L1776.1,879.9 L1780.0,879.7 L1783.9,879.4 L1787.9,879.2 L1791.8,879.0 L1795.7,878.8 L1799.7,878.5 L1803.6,878.3 L1807.5,878.1 L1811.5,877.9 L1815.4,877.7 L1819.3,877.5 L1823.3,877.3 L1827.2,877.2 L1831.1,877.0 L1835.1,876.8 L1839.0,876.6 L1842.9,876.4 L1846.9,876.3 L1850.8,876.1 L1854.7,875.9 L1858.7,875.8 L1862.6,875.6 L1866.5,875.4 L1870.5,875.3 L1874.4,875.1 L1878.3,875.0 L1882.3,874.8 L1886.2,874.7 L1890.1,874.6 L1894.1,874.4 L1898.0,874.3" fill="none" stroke="#000" stroke-width="6.5" stroke-linecap="butt" stroke-linejoin="round"/>
<circle cx="1443.6" cy="1062.8" r="18.5" fill="#ff0000"/>
<circle cx="1458.6" cy="976.9" r="18.5" fill="#ff0000"/>
<circle cx="1473.5" cy="999.3" r="18.5" fill="#ff0000"/>
<circle cx="1489.7" cy="1019.2" r="18.5" fill="#ff0000"/>
<circle cx="1505.9" cy="934.5" r="18.5" fill="#ff0000"/>
<circle cx="1520.8" cy="905.9" r="18.5" fill="#ff0000"/>
<circle cx="1553.2" cy="904.6" r="18.5" fill="#ff0000"/>
<circle cx="1583.1" cy="876.0" r="18.5" fill="#ff0000"/>
<circle cx="1583.1" cy="945.7" r="18.5" fill="#ff0000"/>
<circle cx="1615.5" cy="915.8" r="18.5" fill="#ff0000"/>
<circle cx="1646.7" cy="836.1" r="18.5" fill="#ff0000"/>
<circle cx="1677.8" cy="892.2" r="18.5" fill="#ff0000"/>
<circle cx="1741.3" cy="887.9" r="18.5" fill="#ff0000"/>
<circle cx="1803.6" cy="880.3" r="18.5" fill="#ff0000"/>
<circle cx="1898.0" cy="910.9" r="18.5" fill="#ff0000"/>
<path d="M1442.4,1046.1 L1446.2,1034.4 L1450.1,1024.0 L1453.9,1014.8 L1457.7,1006.5 L1461.5,999.0 L1465.4,992.3 L1469.2,986.1 L1473.0,980.5 L1476.9,975.3 L1480.7,970.6 L1484.5,966.2 L1488.3,962.1 L1492.2,958.3 L1496.0,954.8 L1499.8,951.5 L1503.7,948.4 L1507.5,945.5 L1511.3,942.8 L1515.1,940.3 L1519.0,937.8 L1522.8,935.6 L1526.6,933.4 L1530.5,931.4 L1534.3,929.4 L1538.1,927.6 L1541.9,925.8 L1545.8,924.2 L1549.6,922.6 L1553.4,921.0 L1557.3,919.6 L1561.1,918.2 L1564.9,916.9 L1568.7,915.6 L1572.6,914.4 L1576.4,913.2 L1580.2,912.0 L1584.1,911.0 L1587.9,909.9 L1591.7,908.9 L1595.5,907.9 L1599.4,907.0 L1603.2,906.1 L1607.0,905.2 L1610.9,904.4 L1614.7,903.6 L1618.5,902.8 L1622.3,902.0 L1626.2,901.3 L1630.0,900.5 L1633.8,899.8 L1637.7,899.2 L1641.5,898.5 L1645.3,897.9 L1649.1,897.3 L1653.0,896.7 L1656.8,896.1 L1660.6,895.5 L1664.5,895.0 L1668.3,894.4 L1672.1,893.9 L1675.9,893.4 L1679.8,892.9 L1683.6,892.4 L1687.4,892.0 L1691.3,891.5 L1695.1,891.0 L1698.9,890.6 L1702.7,890.2 L1706.6,889.8 L1710.4,889.4 L1714.2,889.0 L1718.1,888.6 L1721.9,888.2 L1725.7,887.8 L1729.5,887.5 L1733.4,887.1 L1737.2,886.8 L1741.0,886.4 L1744.9,886.1 L1748.7,885.8 L1752.5,885.5 L1756.3,885.1 L1760.2,884.8 L1764.0,884.5 L1767.8,884.2 L1771.7,884.0 L1775.5,883.7 L1779.3,883.4 L1783.1,883.1 L1787.0,882.9 L1790.8,882.6 L1794.6,882.4 L1798.5,882.1 L1802.3,881.9 L1806.1,881.6 L1809.9,881.4 L1813.8,881.1 L1817.6,880.9 L1821.4,880.7 L1825.3,880.5 L1829.1,880.2 L1832.9,880.0 L1836.7,879.8 L1840.6,879.6 L1844.4,879.4 L1848.2,879.2 L1852.1,879.0 L1855.9,878.8 L1859.7,878.6 L1863.5,878.4 L1867.4,878.3 L1871.2,878.1 L1875.0,877.9 L1878.9,877.7 L1882.7,877.6 L1886.5,877.4 L1890.3,877.2 L1894.2,877.0 L1898.0,876.9" fill="none" stroke="#ff0000" stroke-width="6.5" stroke-linecap="butt" stroke-linejoin="round"/>
</g>
<clipPath id="clip-P31"><rect x="202" y="1218" width="598.0" height="662.0"/></clipPath>
<g clip-path="url(#clip-P31)">
<rect x="204.7" y="1762.0" width="33" height="33" fill="#000"/>
<rect x="216.9" y="1698.3" width="33" height="33" fill="#000"/>
<rect x="232.0" y="1689.2" width="33" height="33" fill="#000"/>
<rect x="248.7" y="1597.2" width="33" height="33" fill="#000"/>
<rect x="263.9" y="1619.4" width="33" height="33" fill="#000"/>
<rect x="280.6" y="1501.0" width="33" height="33" fill="#000"/>
<rect x="295.8" y="1555.5" width="33" height="33" fill="#000"/>
<rect x="295.8" y="1572.5" width="33" height="33" fill="#000"/>
<rect x="312.5" y="1432.8" width="33" height="33" fill="#000"/>
<rect x="327.6" y="1428.2" width="33" height="33" fill="#000"/>
<rect x="360.5" y="1413.5" width="33" height="33" fill="#000"/>
<rect x="392.8" y="1396.4" width="33" height="33" fill="#000"/>
<rect x="423.5" y="1408.5" width="33" height="33" fill="#000"/>
<rect x="455.5" y="1403.5" width="33" height="33" fill="#000"/>
<rect x="486.5" y="1391.5" width="33" height="33" fill="#000"/>
<rect x="518.8" y="1379.7" width="33" height="33" fill="#000"/>
<rect x="550.5" y="1408.5" width="33" height="33" fill="#000"/>
<rect x="582.5" y="1408.5" width="33" height="33" fill="#000"/>
<rect x="614.5" y="1399.5" width="33" height="33" fill="#000"/>
<rect x="646.2" y="1397.9" width="33" height="33" fill="#000"/>
<path d="M223.7,1841.0 C224.4,1833.6 226.2,1810.6 227.8,1796.4 C229.4,1782.2 231.6,1766.4 233.2,1755.8 C234.8,1745.2 235.1,1744.0 237.2,1732.7 C239.3,1721.4 243.2,1701.1 246.0,1688.0 C248.8,1674.9 251.9,1663.2 254.2,1654.2 C256.5,1645.2 256.0,1645.1 259.6,1633.9 C263.2,1622.8 269.6,1601.6 275.8,1587.3 C282.1,1573.0 289.5,1560.5 297.1,1547.9 C304.7,1535.3 312.3,1522.6 321.4,1511.5 C330.5,1500.4 341.6,1489.7 351.7,1481.1 C361.8,1472.5 371.9,1466.0 382.0,1459.9 C392.1,1453.8 404.8,1448.0 412.4,1444.7 C420.0,1441.4 419.2,1442.3 427.6,1440.0 C436.0,1437.7 449.9,1433.5 462.5,1431.0 C475.1,1428.5 486.5,1426.8 503.4,1425.0 C520.3,1423.2 537.4,1421.7 564.0,1420.5 C590.6,1419.3 646.5,1418.4 663.0,1418.0" fill="none" stroke="#000" stroke-width="6.5" stroke-linecap="butt" stroke-linejoin="round"/>
<circle cx="220.8" cy="1363.5" r="18.5" fill="#ff4040"/>
<circle cx="234.0" cy="1371.0" r="18.5" fill="#ff4040"/>
<circle cx="279.9" cy="1363.5" r="18.5" fill="#ff4040"/>
<circle cx="297.0" cy="1403.0" r="18.5" fill="#ff4040"/>
<circle cx="277.8" cy="1397.8" r="18.5" fill="#ff4040"/>
<circle cx="247.2" cy="1429.7" r="18.5" fill="#ff4040"/>
<circle cx="266.7" cy="1414.4" r="18.5" fill="#ff4040"/>
<circle cx="312.5" cy="1427.6" r="18.5" fill="#ff4040"/>
<circle cx="329.2" cy="1400.3" r="18.5" fill="#ff4040"/>
<circle cx="343.0" cy="1401.7" r="18.5" fill="#ff4040"/>
<circle cx="377.0" cy="1410.3" r="18.5" fill="#ff4040"/>
<circle cx="407.0" cy="1440.1" r="18.5" fill="#ff4040"/>
<circle cx="438.9" cy="1429.7" r="18.5" fill="#ff4040"/>
<circle cx="469.4" cy="1405.4" r="18.5" fill="#ff4040"/>
<circle cx="501.9" cy="1417.4" r="18.5" fill="#ff4040"/>
<circle cx="535.3" cy="1438.7" r="18.5" fill="#ff4040"/>
<circle cx="568.6" cy="1417.4" r="18.5" fill="#ff4040"/>
<circle cx="599.0" cy="1406.8" r="18.5" fill="#ff4040"/>
<circle cx="630.8" cy="1417.4" r="18.5" fill="#ff4040"/>
<circle cx="662.7" cy="1403.8" r="18.5" fill="#ff4040"/>
</g>
<clipPath id="clip-P32"><rect x="810.5" y="1212" width="592.0" height="678.0"/></clipPath>
<g clip-path="url(#clip-P32)">
<rect x="809.5" y="1833.5" width="33" height="33" fill="#000"/>
<rect x="821.9" y="1686.1" width="33" height="33" fill="#000"/>
<rect x="821.9" y="1640.6" width="33" height="33" fill="#000"/>
<rect x="837.0" y="1629.1" width="33" height="33" fill="#000"/>
<rect x="837.0" y="1580.5" width="33" height="33" fill="#000"/>
<rect x="855.2" y="1539.0" width="33" height="33" fill="#000"/>
<rect x="870.4" y="1501.0" width="33" height="33" fill="#000"/>
<rect x="870.4" y="1513.5" width="33" height="33" fill="#000"/>
<rect x="887.1" y="1458.5" width="33" height="33" fill="#000"/>
<rect x="917.4" y="1455.5" width="33" height="33" fill="#000"/>
<rect x="933.5" y="1399.5" width="33" height="33" fill="#000"/>
<rect x="965.5" y="1411.0" width="33" height="33" fill="#000"/>
<rect x="996.3" y="1387.3" width="33" height="33" fill="#000"/>
<rect x="1028.5" y="1393.5" width="33" height="33" fill="#000"/>
<rect x="1060.0" y="1388.5" width="33" height="33" fill="#000"/>
<rect x="1091.5" y="1391.5" width="33" height="33" fill="#000"/>
<rect x="1123.5" y="1385.5" width="33" height="33" fill="#000"/>
<rect x="1155.6" y="1379.7" width="33" height="33" fill="#000"/>
<rect x="1188.4" y="1381.2" width="33" height="33" fill="#000"/>
<path d="M827.0,1823.2 L830.3,1774.3 L833.5,1734.8 L836.8,1702.2 L840.0,1674.9 L843.3,1651.7 L846.6,1631.7 L849.8,1614.3 L853.1,1599.0 L856.3,1585.4 L859.6,1573.4 L862.9,1562.6 L866.1,1552.8 L869.4,1543.9 L872.6,1535.9 L875.9,1528.5 L879.2,1521.8 L882.4,1515.5 L885.7,1509.8 L888.9,1504.4 L892.2,1499.5 L895.5,1494.8 L898.7,1490.5 L902.0,1486.5 L905.3,1482.7 L908.5,1479.1 L911.8,1475.7 L915.0,1472.6 L918.3,1469.6 L921.6,1466.7 L924.8,1464.0 L928.1,1461.5 L931.3,1459.1 L934.6,1456.8 L937.9,1454.6 L941.1,1452.5 L944.4,1450.5 L947.6,1448.5 L950.9,1446.7 L954.2,1445.0 L957.4,1443.3 L960.7,1441.7 L963.9,1440.1 L967.2,1438.6 L970.5,1437.2 L973.7,1435.8 L977.0,1434.5 L980.2,1433.2 L983.5,1431.9 L986.8,1430.8 L990.0,1429.6 L993.3,1428.5 L996.5,1427.4 L999.8,1426.4 L1003.1,1425.4 L1006.3,1424.4 L1009.6,1423.4 L1012.8,1422.5 L1016.1,1421.6 L1019.4,1420.8 L1022.6,1419.9 L1025.9,1419.1 L1029.2,1418.3 L1032.4,1417.6 L1035.7,1416.8 L1038.9,1416.1 L1042.2,1415.4 L1045.5,1414.7 L1048.7,1414.0 L1052.0,1413.4 L1055.2,1412.7 L1058.5,1412.1 L1061.8,1411.5 L1065.0,1410.9 L1068.3,1410.3 L1071.5,1409.8 L1074.8,1409.2 L1078.1,1408.7 L1081.3,1408.2 L1084.6,1407.7 L1087.8,1407.2 L1091.1,1406.7 L1094.4,1406.2 L1097.6,1405.7 L1100.9,1405.3 L1104.1,1404.8 L1107.4,1404.4 L1110.7,1404.0 L1113.9,1403.5 L1117.2,1403.1 L1120.4,1402.7 L1123.7,1402.3 L1127.0,1401.9 L1130.2,1401.6 L1133.5,1401.2 L1136.7,1400.8 L1140.0,1400.5 L1143.3,1400.1 L1146.5,1399.8 L1149.8,1399.4 L1153.1,1399.1 L1156.3,1398.8 L1159.6,1398.5 L1162.8,1398.1 L1166.1,1397.8 L1169.4,1397.5 L1172.6,1397.2 L1175.9,1396.9 L1179.1,1396.7 L1182.4,1396.4 L1185.7,1396.1 L1188.9,1395.8 L1192.2,1395.5 L1195.4,1395.3 L1198.7,1395.0 L1202.0,1394.8 L1205.2,1394.5 L1208.5,1394.3 L1211.7,1394.0 L1215.0,1393.8" fill="none" stroke="#000" stroke-width="6.5" stroke-linecap="butt" stroke-linejoin="round"/>
<circle cx="838.4" cy="1344.6" r="18.5" fill="#ff4040"/>
<circle cx="885.4" cy="1341.6" r="18.5" fill="#ff4040"/>
<circle cx="853.5" cy="1388.6" r="18.5" fill="#ff4040"/>
<circle cx="853.5" cy="1411.4" r="18.5" fill="#ff4040"/>
<circle cx="870.2" cy="1429.6" r="18.5" fill="#ff4040"/>
<circle cx="902.0" cy="1435.6" r="18.5" fill="#ff4040"/>
<circle cx="917.3" cy="1387.1" r="18.5" fill="#ff4040"/>
<circle cx="932.4" cy="1441.7" r="18.5" fill="#ff4040"/>
<circle cx="949.1" cy="1378.0" r="18.5" fill="#ff4040"/>
<circle cx="947.6" cy="1423.5" r="18.5" fill="#ff4040"/>
<circle cx="981.0" cy="1387.1" r="18.5" fill="#ff4040"/>
<circle cx="981.0" cy="1438.7" r="18.5" fill="#ff4040"/>
<circle cx="1014.3" cy="1423.5" r="18.5" fill="#ff4040"/>
<circle cx="1044.7" cy="1418.9" r="18.5" fill="#ff4040"/>
<circle cx="1075.0" cy="1438.7" r="18.5" fill="#ff4040"/>
<circle cx="1106.9" cy="1444.7" r="18.5" fill="#ff4040"/>
<circle cx="1140.2" cy="1412.9" r="18.5" fill="#ff4040"/>
<circle cx="1172.1" cy="1420.5" r="18.5" fill="#ff4040"/>
<circle cx="1208.5" cy="1420.5" r="18.5" fill="#ff4040"/>
<circle cx="827.8" cy="1535.8" r="18.5" fill="#ff4040"/>
<circle cx="890.8" cy="1411.7" r="18.5" fill="#ff4040"/>
<circle cx="920.0" cy="1413.8" r="18.5" fill="#ff4040"/>
</g>
<clipPath id="clip-P33"><rect x="1414.8" y="1215" width="591.2" height="674.3"/></clipPath>
<g clip-path="url(#clip-P33)">
<rect x="1416.3" y="1708.9" width="33" height="33" fill="#000"/>
<rect x="1416.3" y="1667.9" width="33" height="33" fill="#000"/>
<rect x="1428.4" y="1575.4" width="33" height="33" fill="#000"/>
<rect x="1428.4" y="1485.9" width="33" height="33" fill="#000"/>
<rect x="1443.5" y="1417.6" width="33" height="33" fill="#000"/>
<rect x="1443.5" y="1432.8" width="33" height="33" fill="#000"/>
<rect x="1458.7" y="1422.2" width="33" height="33" fill="#000"/>
<rect x="1490.6" y="1360.0" width="33" height="33" fill="#000"/>
<rect x="1503.5" y="1369.5" width="33" height="33" fill="#000"/>
<rect x="1537.6" y="1356.9" width="33" height="33" fill="#000"/>
<rect x="1571.0" y="1372.1" width="33" height="33" fill="#000"/>
<rect x="1603.5" y="1375.1" width="33" height="33" fill="#000"/>
<rect x="1634.7" y="1378.2" width="33" height="33" fill="#000"/>
<rect x="1664.1" y="1372.1" width="33" height="33" fill="#000"/>
<rect x="1696.0" y="1370.6" width="33" height="33" fill="#000"/>
<rect x="1727.8" y="1367.5" width="33" height="33" fill="#000"/>
<rect x="1760.6" y="1352.4" width="33" height="33" fill="#000"/>
<rect x="1795.5" y="1344.8" width="33" height="33" fill="#000"/>
<path d="M1431.5,1730.0 C1431.5,1725.0 1431.6,1710.6 1431.8,1700.0 C1432.0,1689.4 1431.6,1687.0 1432.8,1666.2 C1434.0,1645.4 1436.0,1601.0 1438.8,1575.2 C1441.6,1549.4 1445.9,1529.7 1449.4,1511.5 C1452.9,1493.3 1453.2,1481.2 1460.0,1466.0 C1466.8,1450.8 1478.1,1430.6 1490.0,1420.0 C1501.9,1409.4 1509.3,1407.3 1531.4,1402.3 C1553.5,1397.3 1594.3,1392.7 1622.4,1390.0 C1650.5,1387.3 1673.7,1387.7 1700.0,1386.0 C1726.3,1384.3 1758.0,1381.8 1780.0,1380.0 C1802.0,1378.2 1823.1,1375.8 1831.7,1375.0" fill="none" stroke="#000" stroke-width="6.5" stroke-linecap="butt" stroke-linejoin="round"/>
<circle cx="1431.2" cy="1340.0" r="18.5" fill="#ff4040"/>
<circle cx="1444.9" cy="1381.0" r="18.5" fill="#ff4040"/>
<circle cx="1460.0" cy="1393.2" r="18.5" fill="#ff4040"/>
<circle cx="1491.9" cy="1402.3" r="18.5" fill="#ff4040"/>
<circle cx="1523.8" cy="1431.1" r="18.5" fill="#ff4040"/>
<circle cx="1554.1" cy="1399.2" r="18.5" fill="#ff4040"/>
<circle cx="1586.0" cy="1423.5" r="18.5" fill="#ff4040"/>
<circle cx="1617.8" cy="1403.8" r="18.5" fill="#ff4040"/>
<circle cx="1649.7" cy="1432.6" r="18.5" fill="#ff4040"/>
<circle cx="1680.0" cy="1408.3" r="18.5" fill="#ff4040"/>
<circle cx="1711.9" cy="1397.7" r="18.5" fill="#ff4040"/>
<circle cx="1743.7" cy="1403.8" r="18.5" fill="#ff4040"/>
<circle cx="1774.1" cy="1397.7" r="18.5" fill="#ff4040"/>
<circle cx="1805.9" cy="1393.2" r="18.5" fill="#ff4040"/>
<circle cx="1813.5" cy="1406.8" r="18.5" fill="#ff4040"/>
</g>
<line x1="207.0" y1="160.2" x2="207.0" y2="720.2" stroke="#000" stroke-width="7.5" stroke-linecap="butt"/>
<line x1="203.2" y1="164.0" x2="759.5" y2="164.0" stroke="#000" stroke-width="7.5" stroke-linecap="butt"/>
<line x1="222.0" y1="164.0" x2="222.0" y2="129.0" stroke="#000" stroke-width="7.5" stroke-linecap="butt"/>
<line x1="253.6" y1="164.0" x2="253.6" y2="145.5" stroke="#000" stroke-width="7.5" stroke-linecap="butt"/>
<line x1="285.2" y1="164.0" x2="285.2" y2="145.5" stroke="#000" stroke-width="7.5" stroke-linecap="butt"/>
<line x1="316.8" y1="164.0" x2="316.8" y2="145.5" stroke="#000" stroke-width="7.5" stroke-linecap="butt"/>
<line x1="348.4" y1="164.0" x2="348.4" y2="129.0" stroke="#000" stroke-width="7.5" stroke-linecap="butt"/>
<line x1="380.0" y1="164.0" x2="380.0" y2="145.5" stroke="#000" stroke-width="7.5" stroke-linecap="butt"/>
<line x1="411.6" y1="164.0" x2="411.6" y2="145.5" stroke="#000" stroke-width="7.5" stroke-linecap="butt"/>
<line x1="443.2" y1="164.0" x2="443.2" y2="145.5" stroke="#000" stroke-width="7.5" stroke-linecap="butt"/>
<line x1="474.8" y1="164.0" x2="474.8" y2="129.0" stroke="#000" stroke-width="7.5" stroke-linecap="butt"/>
<line x1="506.4" y1="164.0" x2="506.4" y2="145.5" stroke="#000" stroke-width="7.5" stroke-linecap="butt"/>
<line x1="538.0" y1="164.0" x2="538.0" y2="145.5" stroke="#000" stroke-width="7.5" stroke-linecap="butt"/>
<line x1="569.6" y1="164.0" x2="569.6" y2="145.5" stroke="#000" stroke-width="7.5" stroke-linecap="butt"/>
<line x1="601.2" y1="164.0" x2="601.2" y2="129.0" stroke="#000" stroke-width="7.5" stroke-linecap="butt"/>
<line x1="632.8" y1="164.0" x2="632.8" y2="145.5" stroke="#000" stroke-width="7.5" stroke-linecap="butt"/>
<line x1="664.4" y1="164.0" x2="664.4" y2="145.5" stroke="#000" stroke-width="7.5" stroke-linecap="butt"/>
<line x1="696.0" y1="164.0" x2="696.0" y2="145.5" stroke="#000" stroke-width="7.5" stroke-linecap="butt"/>
<line x1="727.6" y1="164.0" x2="727.6" y2="129.0" stroke="#000" stroke-width="7.5" stroke-linecap="butt"/>
<line x1="759.2" y1="164.0" x2="759.2" y2="145.5" stroke="#000" stroke-width="7.5" stroke-linecap="butt"/>
<line x1="203.2" y1="716.5" x2="759.5" y2="716.5" stroke="#000" stroke-width="7.5" stroke-linecap="butt"/>
<line x1="222.0" y1="695.5" x2="222.0" y2="737.5" stroke="#000" stroke-width="7.5" stroke-linecap="butt"/>
<line x1="253.6" y1="706.0" x2="253.6" y2="727.0" stroke="#000" stroke-width="7.5" stroke-linecap="butt"/>
<line x1="285.2" y1="706.0" x2="285.2" y2="727.0" stroke="#000" stroke-width="7.5" stroke-linecap="butt"/>
<line x1="316.8" y1="706.0" x2="316.8" y2="727.0" stroke="#000" stroke-width="7.5" stroke-linecap="butt"/>
<line x1="348.4" y1="695.5" x2="348.4" y2="737.5" stroke="#000" stroke-width="7.5" stroke-linecap="butt"/>
<line x1="380.0" y1="706.0" x2="380.0" y2="727.0" stroke="#000" stroke-width="7.5" stroke-linecap="butt"/>
<line x1="411.6" y1="706.0" x2="411.6" y2="727.0" stroke="#000" stroke-width="7.5" stroke-linecap="butt"/>
<line x1="443.2" y1="706.0" x2="443.2" y2="727.0" stroke="#000" stroke-width="7.5" stroke-linecap="butt"/>
<line x1="474.8" y1="695.5" x2="474.8" y2="737.5" stroke="#000" stroke-width="7.5" stroke-linecap="butt"/>
<line x1="506.4" y1="706.0" x2="506.4" y2="727.0" stroke="#000" stroke-width="7.5" stroke-linecap="butt"/>
<line x1="538.0" y1="706.0" x2="538.0" y2="727.0" stroke="#000" stroke-width="7.5" stroke-linecap="butt"/>
<line x1="569.6" y1="706.0" x2="569.6" y2="727.0" stroke="#000" stroke-width="7.5" stroke-linecap="butt"/>
<line x1="601.2" y1="695.5" x2="601.2" y2="737.5" stroke="#000" stroke-width="7.5" stroke-linecap="butt"/>
<line x1="632.8" y1="706.0" x2="632.8" y2="727.0" stroke="#000" stroke-width="7.5" stroke-linecap="butt"/>
<line x1="664.4" y1="706.0" x2="664.4" y2="727.0" stroke="#000" stroke-width="7.5" stroke-linecap="butt"/>
<line x1="696.0" y1="706.0" x2="696.0" y2="727.0" stroke="#000" stroke-width="7.5" stroke-linecap="butt"/>
<line x1="727.6" y1="695.5" x2="727.6" y2="737.5" stroke="#000" stroke-width="7.5" stroke-linecap="butt"/>
<line x1="759.2" y1="706.0" x2="759.2" y2="727.0" stroke="#000" stroke-width="7.5" stroke-linecap="butt"/>
<line x1="759.5" y1="666.0" x2="728.5" y2="666.0" stroke="#ff4040" stroke-width="6.5" stroke-linecap="butt"/>
<line x1="759.5" y1="615.8" x2="744.5" y2="615.8" stroke="#ff4040" stroke-width="6.5" stroke-linecap="butt"/>
<line x1="759.5" y1="565.7" x2="744.5" y2="565.7" stroke="#ff4040" stroke-width="6.5" stroke-linecap="butt"/>
<line x1="759.5" y1="515.5" x2="728.5" y2="515.5" stroke="#ff4040" stroke-width="6.5" stroke-linecap="butt"/>
<line x1="759.5" y1="465.3" x2="744.5" y2="465.3" stroke="#ff4040" stroke-width="6.5" stroke-linecap="butt"/>
<line x1="759.5" y1="415.2" x2="744.5" y2="415.2" stroke="#ff4040" stroke-width="6.5" stroke-linecap="butt"/>
<line x1="759.5" y1="365.0" x2="728.5" y2="365.0" stroke="#ff4040" stroke-width="6.5" stroke-linecap="butt"/>
<line x1="759.5" y1="314.8" x2="744.5" y2="314.8" stroke="#ff4040" stroke-width="6.5" stroke-linecap="butt"/>
<line x1="759.5" y1="264.7" x2="744.5" y2="264.7" stroke="#ff4040" stroke-width="6.5" stroke-linecap="butt"/>
<line x1="759.5" y1="214.5" x2="728.5" y2="214.5" stroke="#ff4040" stroke-width="6.5" stroke-linecap="butt"/>
<line x1="759.5" y1="172.0" x2="759.5" y2="712.0" stroke="#ff4040" stroke-width="6.5" stroke-linecap="butt"/>
<line x1="808.5" y1="160.8" x2="808.5" y2="714.2" stroke="#000" stroke-width="7.5" stroke-linecap="butt"/>
<line x1="804.8" y1="164.5" x2="1361.0" y2="164.5" stroke="#000" stroke-width="7.5" stroke-linecap="butt"/>
<line x1="822.5" y1="164.5" x2="822.5" y2="129.5" stroke="#000" stroke-width="7.5" stroke-linecap="butt"/>
<line x1="854.2" y1="164.5" x2="854.2" y2="146.0" stroke="#000" stroke-width="7.5" stroke-linecap="butt"/>
<line x1="886.0" y1="164.5" x2="886.0" y2="146.0" stroke="#000" stroke-width="7.5" stroke-linecap="butt"/>
<line x1="917.8" y1="164.5" x2="917.8" y2="146.0" stroke="#000" stroke-width="7.5" stroke-linecap="butt"/>
<line x1="949.5" y1="164.5" x2="949.5" y2="129.5" stroke="#000" stroke-width="7.5" stroke-linecap="butt"/>
<line x1="981.2" y1="164.5" x2="981.2" y2="146.0" stroke="#000" stroke-width="7.5" stroke-linecap="butt"/>
<line x1="1013.0" y1="164.5" x2="1013.0" y2="146.0" stroke="#000" stroke-width="7.5" stroke-linecap="butt"/>
<line x1="1044.8" y1="164.5" x2="1044.8" y2="146.0" stroke="#000" stroke-width="7.5" stroke-linecap="butt"/>
<line x1="1076.5" y1="164.5" x2="1076.5" y2="129.5" stroke="#000" stroke-width="7.5" stroke-linecap="butt"/>
<line x1="1108.2" y1="164.5" x2="1108.2" y2="146.0" stroke="#000" stroke-width="7.5" stroke-linecap="butt"/>
<line x1="1140.0" y1="164.5" x2="1140.0" y2="146.0" stroke="#000" stroke-width="7.5" stroke-linecap="butt"/>
<line x1="1171.8" y1="164.5" x2="1171.8" y2="146.0" stroke="#000" stroke-width="7.5" stroke-linecap="butt"/>
<line x1="1203.5" y1="164.5" x2="1203.5" y2="129.5" stroke="#000" stroke-width="7.5" stroke-linecap="butt"/>
<line x1="1235.2" y1="164.5" x2="1235.2" y2="146.0" stroke="#000" stroke-width="7.5" stroke-linecap="butt"/>
<line x1="1267.0" y1="164.5" x2="1267.0" y2="146.0" stroke="#000" stroke-width="7.5" stroke-linecap="butt"/>
<line x1="1298.8" y1="164.5" x2="1298.8" y2="146.0" stroke="#000" stroke-width="7.5" stroke-linecap="butt"/>
<line x1="1330.5" y1="164.5" x2="1330.5" y2="129.5" stroke="#000" stroke-width="7.5" stroke-linecap="butt"/>
<line x1="1362.2" y1="164.5" x2="1362.2" y2="146.0" stroke="#000" stroke-width="7.5" stroke-linecap="butt"/>
<line x1="804.8" y1="710.5" x2="1361.0" y2="710.5" stroke="#000" stroke-width="7.5" stroke-linecap="butt"/>
<line x1="822.5" y1="689.5" x2="822.5" y2="731.5" stroke="#000" stroke-width="7.5" stroke-linecap="butt"/>
<line x1="854.2" y1="700.0" x2="854.2" y2="721.0" stroke="#000" stroke-width="7.5" stroke-linecap="butt"/>
<line x1="886.0" y1="700.0" x2="886.0" y2="721.0" stroke="#000" stroke-width="7.5" stroke-linecap="butt"/>
<line x1="917.8" y1="700.0" x2="917.8" y2="721.0" stroke="#000" stroke-width="7.5" stroke-linecap="butt"/>
<line x1="949.5" y1="689.5" x2="949.5" y2="731.5" stroke="#000" stroke-width="7.5" stroke-linecap="butt"/>
<line x1="981.2" y1="700.0" x2="981.2" y2="721.0" stroke="#000" stroke-width="7.5" stroke-linecap="butt"/>
<line x1="1013.0" y1="700.0" x2="1013.0" y2="721.0" stroke="#000" stroke-width="7.5" stroke-linecap="butt"/>
<line x1="1044.8" y1="700.0" x2="1044.8" y2="721.0" stroke="#000" stroke-width="7.5" stroke-linecap="butt"/>
<line x1="1076.5" y1="689.5" x2="1076.5" y2="731.5" stroke="#000" stroke-width="7.5" stroke-linecap="butt"/>
<line x1="1108.2" y1="700.0" x2="1108.2" y2="721.0" stroke="#000" stroke-width="7.5" stroke-linecap="butt"/>
<line x1="1140.0" y1="700.0" x2="1140.0" y2="721.0" stroke="#000" stroke-width="7.5" stroke-linecap="butt"/>
<line x1="1171.8" y1="700.0" x2="1171.8" y2="721.0" stroke="#000" stroke-width="7.5" stroke-linecap="butt"/>
<line x1="1203.5" y1="689.5" x2="1203.5" y2="731.5" stroke="#000" stroke-width="7.5" stroke-linecap="butt"/>
<line x1="1235.2" y1="700.0" x2="1235.2" y2="721.0" stroke="#000" stroke-width="7.5" stroke-linecap="butt"/>
<line x1="1267.0" y1="700.0" x2="1267.0" y2="721.0" stroke="#000" stroke-width="7.5" stroke-linecap="butt"/>
<line x1="1298.8" y1="700.0" x2="1298.8" y2="721.0" stroke="#000" stroke-width="7.5" stroke-linecap="butt"/>
<line x1="1330.5" y1="689.5" x2="1330.5" y2="731.5" stroke="#000" stroke-width="7.5" stroke-linecap="butt"/>
<line x1="1362.2" y1="700.0" x2="1362.2" y2="721.0" stroke="#000" stroke-width="7.5" stroke-linecap="butt"/>
<line x1="1361.0" y1="709.6" x2="1346.0" y2="709.6" stroke="#ff4040" stroke-width="6.5" stroke-linecap="butt"/>
<line x1="1361.0" y1="660.2" x2="1330.0" y2="660.2" stroke="#ff4040" stroke-width="6.5" stroke-linecap="butt"/>
<line x1="1361.0" y1="610.8" x2="1346.0" y2="610.8" stroke="#ff4040" stroke-width="6.5" stroke-linecap="butt"/>
<line x1="1361.0" y1="561.3" x2="1346.0" y2="561.3" stroke="#ff4040" stroke-width="6.5" stroke-linecap="butt"/>
<line x1="1361.0" y1="511.9" x2="1330.0" y2="511.9" stroke="#ff4040" stroke-width="6.5" stroke-linecap="butt"/>
<line x1="1361.0" y1="462.5" x2="1346.0" y2="462.5" stroke="#ff4040" stroke-width="6.5" stroke-linecap="butt"/>
<line x1="1361.0" y1="413.0" x2="1346.0" y2="413.0" stroke="#ff4040" stroke-width="6.5" stroke-linecap="butt"/>
<line x1="1361.0" y1="363.6" x2="1330.0" y2="363.6" stroke="#ff4040" stroke-width="6.5" stroke-linecap="butt"/>
<line x1="1361.0" y1="314.2" x2="1346.0" y2="314.2" stroke="#ff4040" stroke-width="6.5" stroke-linecap="butt"/>
<line x1="1361.0" y1="264.7" x2="1346.0" y2="264.7" stroke="#ff4040" stroke-width="6.5" stroke-linecap="butt"/>
<line x1="1361.0" y1="215.3" x2="1330.0" y2="215.3" stroke="#ff4040" stroke-width="6.5" stroke-linecap="butt"/>
<line x1="1361.0" y1="168.0" x2="1361.0" y2="710.0" stroke="#ff4040" stroke-width="6.5" stroke-linecap="butt"/>
<line x1="1411.0" y1="167.8" x2="1411.0" y2="723.2" stroke="#000" stroke-width="7.5" stroke-linecap="butt"/>
<line x1="1407.2" y1="171.5" x2="1961.5" y2="171.5" stroke="#000" stroke-width="7.5" stroke-linecap="butt"/>
<line x1="1427.0" y1="171.5" x2="1427.0" y2="136.5" stroke="#000" stroke-width="7.5" stroke-linecap="butt"/>
<line x1="1458.5" y1="171.5" x2="1458.5" y2="153.0" stroke="#000" stroke-width="7.5" stroke-linecap="butt"/>
<line x1="1490.1" y1="171.5" x2="1490.1" y2="153.0" stroke="#000" stroke-width="7.5" stroke-linecap="butt"/>
<line x1="1521.7" y1="171.5" x2="1521.7" y2="153.0" stroke="#000" stroke-width="7.5" stroke-linecap="butt"/>
<line x1="1553.2" y1="171.5" x2="1553.2" y2="136.5" stroke="#000" stroke-width="7.5" stroke-linecap="butt"/>
<line x1="1584.8" y1="171.5" x2="1584.8" y2="153.0" stroke="#000" stroke-width="7.5" stroke-linecap="butt"/>
<line x1="1616.3" y1="171.5" x2="1616.3" y2="153.0" stroke="#000" stroke-width="7.5" stroke-linecap="butt"/>
<line x1="1647.8" y1="171.5" x2="1647.8" y2="153.0" stroke="#000" stroke-width="7.5" stroke-linecap="butt"/>
<line x1="1679.4" y1="171.5" x2="1679.4" y2="136.5" stroke="#000" stroke-width="7.5" stroke-linecap="butt"/>
<line x1="1711.0" y1="171.5" x2="1711.0" y2="153.0" stroke="#000" stroke-width="7.5" stroke-linecap="butt"/>
<line x1="1742.5" y1="171.5" x2="1742.5" y2="153.0" stroke="#000" stroke-width="7.5" stroke-linecap="butt"/>
<line x1="1774.0" y1="171.5" x2="1774.0" y2="153.0" stroke="#000" stroke-width="7.5" stroke-linecap="butt"/>
<line x1="1805.6" y1="171.5" x2="1805.6" y2="136.5" stroke="#000" stroke-width="7.5" stroke-linecap="butt"/>
<line x1="1837.2" y1="171.5" x2="1837.2" y2="153.0" stroke="#000" stroke-width="7.5" stroke-linecap="butt"/>
<line x1="1868.7" y1="171.5" x2="1868.7" y2="153.0" stroke="#000" stroke-width="7.5" stroke-linecap="butt"/>
<line x1="1900.2" y1="171.5" x2="1900.2" y2="153.0" stroke="#000" stroke-width="7.5" stroke-linecap="butt"/>
<line x1="1931.8" y1="171.5" x2="1931.8" y2="136.5" stroke="#000" stroke-width="7.5" stroke-linecap="butt"/>
<line x1="1963.3" y1="171.5" x2="1963.3" y2="153.0" stroke="#000" stroke-width="7.5" stroke-linecap="butt"/>
<line x1="1407.2" y1="719.5" x2="1961.5" y2="719.5" stroke="#000" stroke-width="7.5" stroke-linecap="butt"/>
<line x1="1427.0" y1="698.5" x2="1427.0" y2="740.5" stroke="#000" stroke-width="7.5" stroke-linecap="butt"/>
<line x1="1458.5" y1="709.0" x2="1458.5" y2="730.0" stroke="#000" stroke-width="7.5" stroke-linecap="butt"/>
<line x1="1490.1" y1="709.0" x2="1490.1" y2="730.0" stroke="#000" stroke-width="7.5" stroke-linecap="butt"/>
<line x1="1521.7" y1="698.5" x2="1521.7" y2="740.5" stroke="#000" stroke-width="7.5" stroke-linecap="butt"/>
<line x1="1553.2" y1="709.0" x2="1553.2" y2="730.0" stroke="#000" stroke-width="7.5" stroke-linecap="butt"/>
<line x1="1584.8" y1="709.0" x2="1584.8" y2="730.0" stroke="#000" stroke-width="7.5" stroke-linecap="butt"/>
<line x1="1616.3" y1="698.5" x2="1616.3" y2="740.5" stroke="#000" stroke-width="7.5" stroke-linecap="butt"/>
<line x1="1647.8" y1="709.0" x2="1647.8" y2="730.0" stroke="#000" stroke-width="7.5" stroke-linecap="butt"/>
<line x1="1679.4" y1="709.0" x2="1679.4" y2="730.0" stroke="#000" stroke-width="7.5" stroke-linecap="butt"/>
<line x1="1711.0" y1="698.5" x2="1711.0" y2="740.5" stroke="#000" stroke-width="7.5" stroke-linecap="butt"/>
<line x1="1742.5" y1="709.0" x2="1742.5" y2="730.0" stroke="#000" stroke-width="7.5" stroke-linecap="butt"/>
<line x1="1774.0" y1="709.0" x2="1774.0" y2="730.0" stroke="#000" stroke-width="7.5" stroke-linecap="butt"/>
<line x1="1805.6" y1="698.5" x2="1805.6" y2="740.5" stroke="#000" stroke-width="7.5" stroke-linecap="butt"/>
<line x1="1837.2" y1="709.0" x2="1837.2" y2="730.0" stroke="#000" stroke-width="7.5" stroke-linecap="butt"/>
<line x1="1868.7" y1="709.0" x2="1868.7" y2="730.0" stroke="#000" stroke-width="7.5" stroke-linecap="butt"/>
<line x1="1900.2" y1="698.5" x2="1900.2" y2="740.5" stroke="#000" stroke-width="7.5" stroke-linecap="butt"/>
<line x1="1931.8" y1="709.0" x2="1931.8" y2="730.0" stroke="#000" stroke-width="7.5" stroke-linecap="butt"/>
<line x1="1963.3" y1="709.0" x2="1963.3" y2="730.0" stroke="#000" stroke-width="7.5" stroke-linecap="butt"/>
<line x1="1961.5" y1="711.0" x2="1976.5" y2="711.0" stroke="#ff4040" stroke-width="6.5" stroke-linecap="butt"/>
<line x1="1961.5" y1="662.0" x2="1992.5" y2="662.0" stroke="#ff4040" stroke-width="6.5" stroke-linecap="butt"/>
<line x1="1961.5" y1="613.0" x2="1976.5" y2="613.0" stroke="#ff4040" stroke-width="6.5" stroke-linecap="butt"/>
<line x1="1961.5" y1="564.0" x2="1976.5" y2="564.0" stroke="#ff4040" stroke-width="6.5" stroke-linecap="butt"/>
<line x1="1961.5" y1="515.0" x2="1992.5" y2="515.0" stroke="#ff4040" stroke-width="6.5" stroke-linecap="butt"/>
<line x1="1961.5" y1="466.0" x2="1976.5" y2="466.0" stroke="#ff4040" stroke-width="6.5" stroke-linecap="butt"/>
<line x1="1961.5" y1="417.0" x2="1976.5" y2="417.0" stroke="#ff4040" stroke-width="6.5" stroke-linecap="butt"/>
<line x1="1961.5" y1="368.0" x2="1992.5" y2="368.0" stroke="#ff4040" stroke-width="6.5" stroke-linecap="butt"/>
<line x1="1961.5" y1="319.0" x2="1976.5" y2="319.0" stroke="#ff4040" stroke-width="6.5" stroke-linecap="butt"/>
<line x1="1961.5" y1="270.0" x2="1976.5" y2="270.0" stroke="#ff4040" stroke-width="6.5" stroke-linecap="butt"/>
<line x1="1961.5" y1="221.0" x2="1992.5" y2="221.0" stroke="#ff4040" stroke-width="6.5" stroke-linecap="butt"/>
<line x1="1961.5" y1="172.0" x2="1976.5" y2="172.0" stroke="#ff4040" stroke-width="6.5" stroke-linecap="butt"/>
<line x1="1961.5" y1="168.0" x2="1961.5" y2="718.0" stroke="#ff4040" stroke-width="6.5" stroke-linecap="butt"/>
<text x="1998.2" y="242.8" font-size="81" fill="#ff4040" text-anchor="start" >1065</text>
<text x="1998.2" y="389.8" font-size="81" fill="#ff4040" text-anchor="start" >1062</text>
<text x="1998.2" y="536.8" font-size="81" fill="#ff4040" text-anchor="start" >1059</text>
<text x="1998.2" y="683.8" font-size="81" fill="#ff4040" text-anchor="start" >1056</text>
<line x1="205.0" y1="712.8" x2="205.0" y2="1264.2" stroke="#000" stroke-width="7.5" stroke-linecap="butt"/>
<line x1="201.2" y1="1260.5" x2="761.7" y2="1260.5" stroke="#000" stroke-width="7.5" stroke-linecap="butt"/>
<line x1="220.0" y1="1239.5" x2="220.0" y2="1281.5" stroke="#000" stroke-width="7.5" stroke-linecap="butt"/>
<line x1="251.8" y1="1250.0" x2="251.8" y2="1271.0" stroke="#000" stroke-width="7.5" stroke-linecap="butt"/>
<line x1="283.6" y1="1250.0" x2="283.6" y2="1271.0" stroke="#000" stroke-width="7.5" stroke-linecap="butt"/>
<line x1="315.4" y1="1250.0" x2="315.4" y2="1271.0" stroke="#000" stroke-width="7.5" stroke-linecap="butt"/>
<line x1="347.2" y1="1239.5" x2="347.2" y2="1281.5" stroke="#000" stroke-width="7.5" stroke-linecap="butt"/>
<line x1="379.0" y1="1250.0" x2="379.0" y2="1271.0" stroke="#000" stroke-width="7.5" stroke-linecap="butt"/>
<line x1="410.8" y1="1250.0" x2="410.8" y2="1271.0" stroke="#000" stroke-width="7.5" stroke-linecap="butt"/>
<line x1="442.6" y1="1250.0" x2="442.6" y2="1271.0" stroke="#000" stroke-width="7.5" stroke-linecap="butt"/>
<line x1="474.4" y1="1239.5" x2="474.4" y2="1281.5" stroke="#000" stroke-width="7.5" stroke-linecap="butt"/>
<line x1="506.2" y1="1250.0" x2="506.2" y2="1271.0" stroke="#000" stroke-width="7.5" stroke-linecap="butt"/>
<line x1="538.0" y1="1250.0" x2="538.0" y2="1271.0" stroke="#000" stroke-width="7.5" stroke-linecap="butt"/>
<line x1="569.8" y1="1250.0" x2="569.8" y2="1271.0" stroke="#000" stroke-width="7.5" stroke-linecap="butt"/>
<line x1="601.6" y1="1239.5" x2="601.6" y2="1281.5" stroke="#000" stroke-width="7.5" stroke-linecap="butt"/>
<line x1="633.4" y1="1250.0" x2="633.4" y2="1271.0" stroke="#000" stroke-width="7.5" stroke-linecap="butt"/>
<line x1="665.2" y1="1250.0" x2="665.2" y2="1271.0" stroke="#000" stroke-width="7.5" stroke-linecap="butt"/>
<line x1="697.0" y1="1250.0" x2="697.0" y2="1271.0" stroke="#000" stroke-width="7.5" stroke-linecap="butt"/>
<line x1="728.8" y1="1239.5" x2="728.8" y2="1281.5" stroke="#000" stroke-width="7.5" stroke-linecap="butt"/>
<line x1="760.6" y1="1250.0" x2="760.6" y2="1271.0" stroke="#000" stroke-width="7.5" stroke-linecap="butt"/>
<line x1="761.7" y1="1259.8" x2="746.7" y2="1259.8" stroke="#ff0000" stroke-width="6.5" stroke-linecap="butt"/>
<line x1="761.7" y1="1210.2" x2="730.7" y2="1210.2" stroke="#ff0000" stroke-width="6.5" stroke-linecap="butt"/>
<line x1="761.7" y1="1160.6" x2="746.7" y2="1160.6" stroke="#ff0000" stroke-width="6.5" stroke-linecap="butt"/>
<line x1="761.7" y1="1110.9" x2="730.7" y2="1110.9" stroke="#ff0000" stroke-width="6.5" stroke-linecap="butt"/>
<line x1="761.7" y1="1061.3" x2="746.7" y2="1061.3" stroke="#ff0000" stroke-width="6.5" stroke-linecap="butt"/>
<line x1="761.7" y1="1011.7" x2="730.7" y2="1011.7" stroke="#ff0000" stroke-width="6.5" stroke-linecap="butt"/>
<line x1="761.7" y1="962.0" x2="746.7" y2="962.0" stroke="#ff0000" stroke-width="6.5" stroke-linecap="butt"/>
<line x1="761.7" y1="912.4" x2="730.7" y2="912.4" stroke="#ff0000" stroke-width="6.5" stroke-linecap="butt"/>
<line x1="761.7" y1="862.8" x2="746.7" y2="862.8" stroke="#ff0000" stroke-width="6.5" stroke-linecap="butt"/>
<line x1="761.7" y1="813.1" x2="730.7" y2="813.1" stroke="#ff0000" stroke-width="6.5" stroke-linecap="butt"/>
<line x1="761.7" y1="763.5" x2="746.7" y2="763.5" stroke="#ff0000" stroke-width="6.5" stroke-linecap="butt"/>
<line x1="761.7" y1="713.9" x2="730.7" y2="713.9" stroke="#ff0000" stroke-width="6.5" stroke-linecap="butt"/>
<line x1="761.7" y1="712.0" x2="761.7" y2="1262.0" stroke="#ff0000" stroke-width="6.5" stroke-linecap="butt"/>
<line x1="811.0" y1="706.8" x2="811.0" y2="1256.2" stroke="#000" stroke-width="7.5" stroke-linecap="butt"/>
<line x1="807.2" y1="1252.5" x2="1360.5" y2="1252.5" stroke="#000" stroke-width="7.5" stroke-linecap="butt"/>
<line x1="822.7" y1="1231.5" x2="822.7" y2="1273.5" stroke="#000" stroke-width="7.5" stroke-linecap="butt"/>
<line x1="854.4" y1="1242.0" x2="854.4" y2="1263.0" stroke="#000" stroke-width="7.5" stroke-linecap="butt"/>
<line x1="886.1" y1="1242.0" x2="886.1" y2="1263.0" stroke="#000" stroke-width="7.5" stroke-linecap="butt"/>
<line x1="917.8" y1="1242.0" x2="917.8" y2="1263.0" stroke="#000" stroke-width="7.5" stroke-linecap="butt"/>
<line x1="949.5" y1="1231.5" x2="949.5" y2="1273.5" stroke="#000" stroke-width="7.5" stroke-linecap="butt"/>
<line x1="981.2" y1="1242.0" x2="981.2" y2="1263.0" stroke="#000" stroke-width="7.5" stroke-linecap="butt"/>
<line x1="1012.9" y1="1242.0" x2="1012.9" y2="1263.0" stroke="#000" stroke-width="7.5" stroke-linecap="butt"/>
<line x1="1044.6" y1="1242.0" x2="1044.6" y2="1263.0" stroke="#000" stroke-width="7.5" stroke-linecap="butt"/>
<line x1="1076.3" y1="1231.5" x2="1076.3" y2="1273.5" stroke="#000" stroke-width="7.5" stroke-linecap="butt"/>
<line x1="1108.0" y1="1242.0" x2="1108.0" y2="1263.0" stroke="#000" stroke-width="7.5" stroke-linecap="butt"/>
<line x1="1139.7" y1="1242.0" x2="1139.7" y2="1263.0" stroke="#000" stroke-width="7.5" stroke-linecap="butt"/>
<line x1="1171.4" y1="1242.0" x2="1171.4" y2="1263.0" stroke="#000" stroke-width="7.5" stroke-linecap="butt"/>
<line x1="1203.1" y1="1231.5" x2="1203.1" y2="1273.5" stroke="#000" stroke-width="7.5" stroke-linecap="butt"/>
<line x1="1234.8" y1="1242.0" x2="1234.8" y2="1263.0" stroke="#000" stroke-width="7.5" stroke-linecap="butt"/>
<line x1="1266.5" y1="1242.0" x2="1266.5" y2="1263.0" stroke="#000" stroke-width="7.5" stroke-linecap="butt"/>
<line x1="1298.2" y1="1242.0" x2="1298.2" y2="1263.0" stroke="#000" stroke-width="7.5" stroke-linecap="butt"/>
<line x1="1329.9" y1="1231.5" x2="1329.9" y2="1273.5" stroke="#000" stroke-width="7.5" stroke-linecap="butt"/>
<line x1="1361.6" y1="1242.0" x2="1361.6" y2="1263.0" stroke="#000" stroke-width="7.5" stroke-linecap="butt"/>
<line x1="1360.5" y1="1259.2" x2="1345.5" y2="1259.2" stroke="#ff0000" stroke-width="6.5" stroke-linecap="butt"/>
<line x1="1360.5" y1="1209.6" x2="1329.5" y2="1209.6" stroke="#ff0000" stroke-width="6.5" stroke-linecap="butt"/>
<line x1="1360.5" y1="1160.0" x2="1345.5" y2="1160.0" stroke="#ff0000" stroke-width="6.5" stroke-linecap="butt"/>
<line x1="1360.5" y1="1110.5" x2="1329.5" y2="1110.5" stroke="#ff0000" stroke-width="6.5" stroke-linecap="butt"/>
<line x1="1360.5" y1="1060.9" x2="1345.5" y2="1060.9" stroke="#ff0000" stroke-width="6.5" stroke-linecap="butt"/>
<line x1="1360.5" y1="1011.3" x2="1329.5" y2="1011.3" stroke="#ff0000" stroke-width="6.5" stroke-linecap="butt"/>
<line x1="1360.5" y1="961.8" x2="1345.5" y2="961.8" stroke="#ff0000" stroke-width="6.5" stroke-linecap="butt"/>
<line x1="1360.5" y1="912.2" x2="1329.5" y2="912.2" stroke="#ff0000" stroke-width="6.5" stroke-linecap="butt"/>
<line x1="1360.5" y1="862.6" x2="1345.5" y2="862.6" stroke="#ff0000" stroke-width="6.5" stroke-linecap="butt"/>
<line x1="1360.5" y1="813.1" x2="1329.5" y2="813.1" stroke="#ff0000" stroke-width="6.5" stroke-linecap="butt"/>
<line x1="1360.5" y1="763.5" x2="1345.5" y2="763.5" stroke="#ff0000" stroke-width="6.5" stroke-linecap="butt"/>
<line x1="1360.5" y1="713.9" x2="1329.5" y2="713.9" stroke="#ff0000" stroke-width="6.5" stroke-linecap="butt"/>
<line x1="1360.5" y1="710.0" x2="1360.5" y2="1260.0" stroke="#ff0000" stroke-width="6.5" stroke-linecap="butt"/>
<line x1="1413.0" y1="715.8" x2="1413.0" y2="1260.2" stroke="#000" stroke-width="7.5" stroke-linecap="butt"/>
<line x1="1409.2" y1="1256.5" x2="1961.7" y2="1256.5" stroke="#000" stroke-width="7.5" stroke-linecap="butt"/>
<line x1="1427.2" y1="1235.5" x2="1427.2" y2="1277.5" stroke="#000" stroke-width="7.5" stroke-linecap="butt"/>
<line x1="1458.7" y1="1246.0" x2="1458.7" y2="1267.0" stroke="#000" stroke-width="7.5" stroke-linecap="butt"/>
<line x1="1490.2" y1="1246.0" x2="1490.2" y2="1267.0" stroke="#000" stroke-width="7.5" stroke-linecap="butt"/>
<line x1="1521.7" y1="1246.0" x2="1521.7" y2="1267.0" stroke="#000" stroke-width="7.5" stroke-linecap="butt"/>
<line x1="1553.2" y1="1235.5" x2="1553.2" y2="1277.5" stroke="#000" stroke-width="7.5" stroke-linecap="butt"/>
<line x1="1584.7" y1="1246.0" x2="1584.7" y2="1267.0" stroke="#000" stroke-width="7.5" stroke-linecap="butt"/>
<line x1="1616.2" y1="1246.0" x2="1616.2" y2="1267.0" stroke="#000" stroke-width="7.5" stroke-linecap="butt"/>
<line x1="1647.7" y1="1246.0" x2="1647.7" y2="1267.0" stroke="#000" stroke-width="7.5" stroke-linecap="butt"/>
<line x1="1679.2" y1="1235.5" x2="1679.2" y2="1277.5" stroke="#000" stroke-width="7.5" stroke-linecap="butt"/>
<line x1="1710.7" y1="1246.0" x2="1710.7" y2="1267.0" stroke="#000" stroke-width="7.5" stroke-linecap="butt"/>
<line x1="1742.2" y1="1246.0" x2="1742.2" y2="1267.0" stroke="#000" stroke-width="7.5" stroke-linecap="butt"/>
<line x1="1773.7" y1="1246.0" x2="1773.7" y2="1267.0" stroke="#000" stroke-width="7.5" stroke-linecap="butt"/>
<line x1="1805.2" y1="1235.5" x2="1805.2" y2="1277.5" stroke="#000" stroke-width="7.5" stroke-linecap="butt"/>
<line x1="1836.7" y1="1246.0" x2="1836.7" y2="1267.0" stroke="#000" stroke-width="7.5" stroke-linecap="butt"/>
<line x1="1868.2" y1="1246.0" x2="1868.2" y2="1267.0" stroke="#000" stroke-width="7.5" stroke-linecap="butt"/>
<line x1="1899.7" y1="1246.0" x2="1899.7" y2="1267.0" stroke="#000" stroke-width="7.5" stroke-linecap="butt"/>
<line x1="1931.2" y1="1235.5" x2="1931.2" y2="1277.5" stroke="#000" stroke-width="7.5" stroke-linecap="butt"/>
<line x1="1962.7" y1="1246.0" x2="1962.7" y2="1267.0" stroke="#000" stroke-width="7.5" stroke-linecap="butt"/>
<line x1="1961.7" y1="1210.2" x2="1992.7" y2="1210.2" stroke="#ff0000" stroke-width="6.5" stroke-linecap="butt"/>
<line x1="1961.7" y1="1161.1" x2="1976.7" y2="1161.1" stroke="#ff0000" stroke-width="6.5" stroke-linecap="butt"/>
<line x1="1961.7" y1="1112.0" x2="1976.7" y2="1112.0" stroke="#ff0000" stroke-width="6.5" stroke-linecap="butt"/>
<line x1="1961.7" y1="1062.9" x2="1992.7" y2="1062.9" stroke="#ff0000" stroke-width="6.5" stroke-linecap="butt"/>
<line x1="1961.7" y1="1013.8" x2="1976.7" y2="1013.8" stroke="#ff0000" stroke-width="6.5" stroke-linecap="butt"/>
<line x1="1961.7" y1="964.6" x2="1976.7" y2="964.6" stroke="#ff0000" stroke-width="6.5" stroke-linecap="butt"/>
<line x1="1961.7" y1="915.5" x2="1992.7" y2="915.5" stroke="#ff0000" stroke-width="6.5" stroke-linecap="butt"/>
<line x1="1961.7" y1="866.4" x2="1976.7" y2="866.4" stroke="#ff0000" stroke-width="6.5" stroke-linecap="butt"/>
<line x1="1961.7" y1="817.3" x2="1976.7" y2="817.3" stroke="#ff0000" stroke-width="6.5" stroke-linecap="butt"/>
<line x1="1961.7" y1="768.2" x2="1992.7" y2="768.2" stroke="#ff0000" stroke-width="6.5" stroke-linecap="butt"/>
<line x1="1961.7" y1="719.1" x2="1976.7" y2="719.1" stroke="#ff0000" stroke-width="6.5" stroke-linecap="butt"/>
<line x1="1961.7" y1="712.0" x2="1961.7" y2="1258.0" stroke="#ff0000" stroke-width="6.5" stroke-linecap="butt"/>
<text x="1998.2" y="791.2" font-size="81" fill="#ff0000" text-anchor="start" >1065</text>
<text x="1998.2" y="938.5" font-size="81" fill="#ff0000" text-anchor="start" >1062</text>
<text x="1998.2" y="1085.9" font-size="81" fill="#ff0000" text-anchor="start" >1059</text>
<text x="1998.2" y="1233.2" font-size="81" fill="#ff0000" text-anchor="start" >1056</text>
<line x1="202.0" y1="1256.8" x2="202.0" y2="1846.2" stroke="#000" stroke-width="7.5" stroke-linecap="butt"/>
<line x1="198.2" y1="1842.5" x2="760.0" y2="1842.5" stroke="#000" stroke-width="7.5" stroke-linecap="butt"/>
<line x1="217.8" y1="1842.5" x2="217.8" y2="1878.5" stroke="#000" stroke-width="7.5" stroke-linecap="butt"/>
<line x1="249.6" y1="1842.5" x2="249.6" y2="1861.0" stroke="#000" stroke-width="7.5" stroke-linecap="butt"/>
<line x1="281.4" y1="1842.5" x2="281.4" y2="1861.0" stroke="#000" stroke-width="7.5" stroke-linecap="butt"/>
<line x1="313.2" y1="1842.5" x2="313.2" y2="1861.0" stroke="#000" stroke-width="7.5" stroke-linecap="butt"/>
<line x1="345.0" y1="1842.5" x2="345.0" y2="1878.5" stroke="#000" stroke-width="7.5" stroke-linecap="butt"/>
<line x1="376.8" y1="1842.5" x2="376.8" y2="1861.0" stroke="#000" stroke-width="7.5" stroke-linecap="butt"/>
<line x1="408.6" y1="1842.5" x2="408.6" y2="1861.0" stroke="#000" stroke-width="7.5" stroke-linecap="butt"/>
<line x1="440.4" y1="1842.5" x2="440.4" y2="1861.0" stroke="#000" stroke-width="7.5" stroke-linecap="butt"/>
<line x1="472.2" y1="1842.5" x2="472.2" y2="1878.5" stroke="#000" stroke-width="7.5" stroke-linecap="butt"/>
<line x1="504.0" y1="1842.5" x2="504.0" y2="1861.0" stroke="#000" stroke-width="7.5" stroke-linecap="butt"/>
<line x1="535.8" y1="1842.5" x2="535.8" y2="1861.0" stroke="#000" stroke-width="7.5" stroke-linecap="butt"/>
<line x1="567.6" y1="1842.5" x2="567.6" y2="1861.0" stroke="#000" stroke-width="7.5" stroke-linecap="butt"/>
<line x1="599.4" y1="1842.5" x2="599.4" y2="1878.5" stroke="#000" stroke-width="7.5" stroke-linecap="butt"/>
<line x1="631.2" y1="1842.5" x2="631.2" y2="1861.0" stroke="#000" stroke-width="7.5" stroke-linecap="butt"/>
<line x1="663.0" y1="1842.5" x2="663.0" y2="1861.0" stroke="#000" stroke-width="7.5" stroke-linecap="butt"/>
<line x1="694.8" y1="1842.5" x2="694.8" y2="1861.0" stroke="#000" stroke-width="7.5" stroke-linecap="butt"/>
<line x1="726.6" y1="1842.5" x2="726.6" y2="1878.5" stroke="#000" stroke-width="7.5" stroke-linecap="butt"/>
<line x1="758.4" y1="1842.5" x2="758.4" y2="1861.0" stroke="#000" stroke-width="7.5" stroke-linecap="butt"/>
<line x1="760.0" y1="1841.9" x2="745.0" y2="1841.9" stroke="#ff4040" stroke-width="6.5" stroke-linecap="butt"/>
<line x1="760.0" y1="1788.8" x2="729.0" y2="1788.8" stroke="#ff4040" stroke-width="6.5" stroke-linecap="butt"/>
<line x1="760.0" y1="1735.7" x2="745.0" y2="1735.7" stroke="#ff4040" stroke-width="6.5" stroke-linecap="butt"/>
<line x1="760.0" y1="1682.6" x2="745.0" y2="1682.6" stroke="#ff4040" stroke-width="6.5" stroke-linecap="butt"/>
<line x1="760.0" y1="1629.5" x2="729.0" y2="1629.5" stroke="#ff4040" stroke-width="6.5" stroke-linecap="butt"/>
<line x1="760.0" y1="1576.4" x2="745.0" y2="1576.4" stroke="#ff4040" stroke-width="6.5" stroke-linecap="butt"/>
<line x1="760.0" y1="1523.4" x2="745.0" y2="1523.4" stroke="#ff4040" stroke-width="6.5" stroke-linecap="butt"/>
<line x1="760.0" y1="1470.3" x2="729.0" y2="1470.3" stroke="#ff4040" stroke-width="6.5" stroke-linecap="butt"/>
<line x1="760.0" y1="1417.2" x2="745.0" y2="1417.2" stroke="#ff4040" stroke-width="6.5" stroke-linecap="butt"/>
<line x1="760.0" y1="1364.1" x2="745.0" y2="1364.1" stroke="#ff4040" stroke-width="6.5" stroke-linecap="butt"/>
<line x1="760.0" y1="1311.0" x2="729.0" y2="1311.0" stroke="#ff4040" stroke-width="6.5" stroke-linecap="butt"/>
<line x1="760.0" y1="1257.9" x2="745.0" y2="1257.9" stroke="#ff4040" stroke-width="6.5" stroke-linecap="butt"/>
<line x1="760.0" y1="1258.0" x2="760.0" y2="1845.0" stroke="#ff4040" stroke-width="6.5" stroke-linecap="butt"/>
<line x1="810.5" y1="1248.8" x2="810.5" y2="1854.2" stroke="#000" stroke-width="7.5" stroke-linecap="butt"/>
<line x1="806.8" y1="1850.5" x2="1362.5" y2="1850.5" stroke="#000" stroke-width="7.5" stroke-linecap="butt"/>
<line x1="822.7" y1="1850.5" x2="822.7" y2="1886.5" stroke="#000" stroke-width="7.5" stroke-linecap="butt"/>
<line x1="854.4" y1="1850.5" x2="854.4" y2="1869.0" stroke="#000" stroke-width="7.5" stroke-linecap="butt"/>
<line x1="886.1" y1="1850.5" x2="886.1" y2="1869.0" stroke="#000" stroke-width="7.5" stroke-linecap="butt"/>
<line x1="917.8" y1="1850.5" x2="917.8" y2="1869.0" stroke="#000" stroke-width="7.5" stroke-linecap="butt"/>
<line x1="949.5" y1="1850.5" x2="949.5" y2="1886.5" stroke="#000" stroke-width="7.5" stroke-linecap="butt"/>
<line x1="981.2" y1="1850.5" x2="981.2" y2="1869.0" stroke="#000" stroke-width="7.5" stroke-linecap="butt"/>
<line x1="1012.9" y1="1850.5" x2="1012.9" y2="1869.0" stroke="#000" stroke-width="7.5" stroke-linecap="butt"/>
<line x1="1044.6" y1="1850.5" x2="1044.6" y2="1869.0" stroke="#000" stroke-width="7.5" stroke-linecap="butt"/>
<line x1="1076.3" y1="1850.5" x2="1076.3" y2="1886.5" stroke="#000" stroke-width="7.5" stroke-linecap="butt"/>
<line x1="1108.0" y1="1850.5" x2="1108.0" y2="1869.0" stroke="#000" stroke-width="7.5" stroke-linecap="butt"/>
<line x1="1139.7" y1="1850.5" x2="1139.7" y2="1869.0" stroke="#000" stroke-width="7.5" stroke-linecap="butt"/>
<line x1="1171.4" y1="1850.5" x2="1171.4" y2="1869.0" stroke="#000" stroke-width="7.5" stroke-linecap="butt"/>
<line x1="1203.1" y1="1850.5" x2="1203.1" y2="1886.5" stroke="#000" stroke-width="7.5" stroke-linecap="butt"/>
<line x1="1234.8" y1="1850.5" x2="1234.8" y2="1869.0" stroke="#000" stroke-width="7.5" stroke-linecap="butt"/>
<line x1="1266.5" y1="1850.5" x2="1266.5" y2="1869.0" stroke="#000" stroke-width="7.5" stroke-linecap="butt"/>
<line x1="1298.2" y1="1850.5" x2="1298.2" y2="1869.0" stroke="#000" stroke-width="7.5" stroke-linecap="butt"/>
<line x1="1329.9" y1="1850.5" x2="1329.9" y2="1886.5" stroke="#000" stroke-width="7.5" stroke-linecap="butt"/>
<line x1="1361.6" y1="1850.5" x2="1361.6" y2="1869.0" stroke="#000" stroke-width="7.5" stroke-linecap="butt"/>
<line x1="1362.5" y1="1849.9" x2="1347.5" y2="1849.9" stroke="#ff4040" stroke-width="6.5" stroke-linecap="butt"/>
<line x1="1362.5" y1="1795.7" x2="1331.5" y2="1795.7" stroke="#ff4040" stroke-width="6.5" stroke-linecap="butt"/>
<line x1="1362.5" y1="1741.5" x2="1347.5" y2="1741.5" stroke="#ff4040" stroke-width="6.5" stroke-linecap="butt"/>
<line x1="1362.5" y1="1687.3" x2="1331.5" y2="1687.3" stroke="#ff4040" stroke-width="6.5" stroke-linecap="butt"/>
<line x1="1362.5" y1="1633.1" x2="1347.5" y2="1633.1" stroke="#ff4040" stroke-width="6.5" stroke-linecap="butt"/>
<line x1="1362.5" y1="1578.9" x2="1331.5" y2="1578.9" stroke="#ff4040" stroke-width="6.5" stroke-linecap="butt"/>
<line x1="1362.5" y1="1524.8" x2="1347.5" y2="1524.8" stroke="#ff4040" stroke-width="6.5" stroke-linecap="butt"/>
<line x1="1362.5" y1="1470.6" x2="1331.5" y2="1470.6" stroke="#ff4040" stroke-width="6.5" stroke-linecap="butt"/>
<line x1="1362.5" y1="1416.4" x2="1347.5" y2="1416.4" stroke="#ff4040" stroke-width="6.5" stroke-linecap="butt"/>
<line x1="1362.5" y1="1362.2" x2="1331.5" y2="1362.2" stroke="#ff4040" stroke-width="6.5" stroke-linecap="butt"/>
<line x1="1362.5" y1="1308.0" x2="1347.5" y2="1308.0" stroke="#ff4040" stroke-width="6.5" stroke-linecap="butt"/>
<line x1="1362.5" y1="1253.8" x2="1331.5" y2="1253.8" stroke="#ff4040" stroke-width="6.5" stroke-linecap="butt"/>
<line x1="1362.5" y1="1252.0" x2="1362.5" y2="1852.0" stroke="#ff4040" stroke-width="6.5" stroke-linecap="butt"/>
<line x1="1414.8" y1="1252.8" x2="1414.8" y2="1854.5" stroke="#000" stroke-width="7.5" stroke-linecap="butt"/>
<line x1="1411.0" y1="1850.8" x2="1966.0" y2="1850.8" stroke="#000" stroke-width="7.5" stroke-linecap="butt"/>
<line x1="1429.3" y1="1850.8" x2="1429.3" y2="1886.8" stroke="#000" stroke-width="7.5" stroke-linecap="butt"/>
<line x1="1460.8" y1="1850.8" x2="1460.8" y2="1869.3" stroke="#000" stroke-width="7.5" stroke-linecap="butt"/>
<line x1="1492.4" y1="1850.8" x2="1492.4" y2="1869.3" stroke="#000" stroke-width="7.5" stroke-linecap="butt"/>
<line x1="1524.0" y1="1850.8" x2="1524.0" y2="1869.3" stroke="#000" stroke-width="7.5" stroke-linecap="butt"/>
<line x1="1555.5" y1="1850.8" x2="1555.5" y2="1886.8" stroke="#000" stroke-width="7.5" stroke-linecap="butt"/>
<line x1="1587.0" y1="1850.8" x2="1587.0" y2="1869.3" stroke="#000" stroke-width="7.5" stroke-linecap="butt"/>
<line x1="1618.6" y1="1850.8" x2="1618.6" y2="1869.3" stroke="#000" stroke-width="7.5" stroke-linecap="butt"/>
<line x1="1650.1" y1="1850.8" x2="1650.1" y2="1869.3" stroke="#000" stroke-width="7.5" stroke-linecap="butt"/>
<line x1="1681.7" y1="1850.8" x2="1681.7" y2="1886.8" stroke="#000" stroke-width="7.5" stroke-linecap="butt"/>
<line x1="1713.2" y1="1850.8" x2="1713.2" y2="1869.3" stroke="#000" stroke-width="7.5" stroke-linecap="butt"/>
<line x1="1744.8" y1="1850.8" x2="1744.8" y2="1869.3" stroke="#000" stroke-width="7.5" stroke-linecap="butt"/>
<line x1="1776.3" y1="1850.8" x2="1776.3" y2="1869.3" stroke="#000" stroke-width="7.5" stroke-linecap="butt"/>
<line x1="1807.9" y1="1850.8" x2="1807.9" y2="1886.8" stroke="#000" stroke-width="7.5" stroke-linecap="butt"/>
<line x1="1839.5" y1="1850.8" x2="1839.5" y2="1869.3" stroke="#000" stroke-width="7.5" stroke-linecap="butt"/>
<line x1="1871.0" y1="1850.8" x2="1871.0" y2="1869.3" stroke="#000" stroke-width="7.5" stroke-linecap="butt"/>
<line x1="1902.5" y1="1850.8" x2="1902.5" y2="1869.3" stroke="#000" stroke-width="7.5" stroke-linecap="butt"/>
<line x1="1934.1" y1="1850.8" x2="1934.1" y2="1886.8" stroke="#000" stroke-width="7.5" stroke-linecap="butt"/>
<line x1="1965.7" y1="1850.8" x2="1965.7" y2="1869.3" stroke="#000" stroke-width="7.5" stroke-linecap="butt"/>
<line x1="1966.0" y1="1851.6" x2="1981.0" y2="1851.6" stroke="#ff4040" stroke-width="6.5" stroke-linecap="butt"/>
<line x1="1966.0" y1="1797.5" x2="1997.0" y2="1797.5" stroke="#ff4040" stroke-width="6.5" stroke-linecap="butt"/>
<line x1="1966.0" y1="1743.4" x2="1981.0" y2="1743.4" stroke="#ff4040" stroke-width="6.5" stroke-linecap="butt"/>
<line x1="1966.0" y1="1689.3" x2="1981.0" y2="1689.3" stroke="#ff4040" stroke-width="6.5" stroke-linecap="butt"/>
<line x1="1966.0" y1="1635.2" x2="1997.0" y2="1635.2" stroke="#ff4040" stroke-width="6.5" stroke-linecap="butt"/>
<line x1="1966.0" y1="1581.1" x2="1981.0" y2="1581.1" stroke="#ff4040" stroke-width="6.5" stroke-linecap="butt"/>
<line x1="1966.0" y1="1526.9" x2="1981.0" y2="1526.9" stroke="#ff4040" stroke-width="6.5" stroke-linecap="butt"/>
<line x1="1966.0" y1="1472.8" x2="1997.0" y2="1472.8" stroke="#ff4040" stroke-width="6.5" stroke-linecap="butt"/>
<line x1="1966.0" y1="1418.7" x2="1981.0" y2="1418.7" stroke="#ff4040" stroke-width="6.5" stroke-linecap="butt"/>
<line x1="1966.0" y1="1364.6" x2="1981.0" y2="1364.6" stroke="#ff4040" stroke-width="6.5" stroke-linecap="butt"/>
<line x1="1966.0" y1="1310.5" x2="1997.0" y2="1310.5" stroke="#ff4040" stroke-width="6.5" stroke-linecap="butt"/>
<line x1="1966.0" y1="1256.4" x2="1981.0" y2="1256.4" stroke="#ff4040" stroke-width="6.5" stroke-linecap="butt"/>
<line x1="1966.0" y1="1255.0" x2="1966.0" y2="1852.0" stroke="#ff4040" stroke-width="6.5" stroke-linecap="butt"/>
<text x="1998.2" y="1332.3" font-size="81" fill="#ff4040" text-anchor="start" >1065</text>
<text x="1998.2" y="1494.6" font-size="81" fill="#ff4040" text-anchor="start" >1062</text>
<text x="1998.2" y="1657.0" font-size="81" fill="#ff4040" text-anchor="start" >1059</text>
<text x="1998.2" y="1819.3" font-size="81" fill="#ff4040" text-anchor="start" >1056</text>
<line x1="744.0" y1="164.5" x2="763.0" y2="164.5" stroke="#ff4040" stroke-width="7" stroke-linecap="butt"/>
<line x1="1345.6" y1="165.0" x2="1364.0" y2="165.0" stroke="#ff4040" stroke-width="7" stroke-linecap="butt"/>
<line x1="730.0" y1="713.7" x2="765.6" y2="713.7" stroke="#ff0000" stroke-width="7" stroke-linecap="butt"/>
<line x1="1328.7" y1="712.0" x2="1364.4" y2="712.0" stroke="#ff0000" stroke-width="7" stroke-linecap="butt"/>
<line x1="742.5" y1="1259.3" x2="761.6" y2="1259.3" stroke="#ff4040" stroke-width="7" stroke-linecap="butt"/>
<line x1="1328.7" y1="1253.0" x2="1366.0" y2="1253.0" stroke="#ff4040" stroke-width="7" stroke-linecap="butt"/>
<line x1="743.0" y1="1842.0" x2="761.6" y2="1842.0" stroke="#ff4040" stroke-width="7" stroke-linecap="butt"/>
<line x1="1345.6" y1="1850.5" x2="1366.0" y2="1850.5" stroke="#ff4040" stroke-width="7" stroke-linecap="butt"/>
<text x="222.0" y="105.0" font-size="80" fill="#000" text-anchor="middle" >0</text>
<text x="348.4" y="105.0" font-size="80" fill="#000" text-anchor="middle" >4</text>
<text x="474.8" y="105.0" font-size="80" fill="#000" text-anchor="middle" >8</text>
<text x="601.2" y="105.0" font-size="80" fill="#000" text-anchor="middle" >12</text>
<text x="727.6" y="105.0" font-size="80" fill="#000" text-anchor="middle" >16</text>
<text x="822.5" y="105.0" font-size="80" fill="#000" text-anchor="middle" >0</text>
<text x="949.5" y="105.0" font-size="80" fill="#000" text-anchor="middle" >4</text>
<text x="1076.5" y="105.0" font-size="80" fill="#000" text-anchor="middle" >8</text>
<text x="1203.5" y="105.0" font-size="80" fill="#000" text-anchor="middle" >12</text>
<text x="1330.5" y="105.0" font-size="80" fill="#000" text-anchor="middle" >16</text>
<text x="1427.0" y="110.0" font-size="80" fill="#000" text-anchor="middle" >0</text>
<text x="1553.2" y="110.0" font-size="80" fill="#000" text-anchor="middle" >4</text>
<text x="1679.4" y="110.0" font-size="80" fill="#000" text-anchor="middle" >8</text>
<text x="1805.6" y="110.0" font-size="80" fill="#000" text-anchor="middle" >12</text>
<text x="1931.8" y="110.0" font-size="80" fill="#000" text-anchor="middle" >16</text>
<text x="217.8" y="1967.0" font-size="82" fill="#000" text-anchor="middle" >0</text>
<text x="345.0" y="1967.0" font-size="82" fill="#000" text-anchor="middle" >4</text>
<text x="472.2" y="1967.0" font-size="82" fill="#000" text-anchor="middle" >8</text>
<text x="599.4" y="1967.0" font-size="82" fill="#000" text-anchor="middle" >12</text>
<text x="726.6" y="1967.0" font-size="82" fill="#000" text-anchor="middle" >16</text>
<text x="822.7" y="1974.0" font-size="82" fill="#000" text-anchor="middle" >0</text>
<text x="949.5" y="1974.0" font-size="82" fill="#000" text-anchor="middle" >4</text>
<text x="1076.3" y="1974.0" font-size="82" fill="#000" text-anchor="middle" >8</text>
<text x="1203.1" y="1974.0" font-size="82" fill="#000" text-anchor="middle" >12</text>
<text x="1329.9" y="1974.0" font-size="82" fill="#000" text-anchor="middle" >16</text>
<text x="1429.3" y="1973.5" font-size="82" fill="#000" text-anchor="middle" >0</text>
<text x="1555.5" y="1973.5" font-size="82" fill="#000" text-anchor="middle" >4</text>
<text x="1681.7" y="1973.5" font-size="82" fill="#000" text-anchor="middle" >8</text>
<text x="1807.9" y="1973.5" font-size="82" fill="#000" text-anchor="middle" >12</text>
<text x="1934.1" y="1973.5" font-size="82" fill="#000" text-anchor="middle" >16</text>
<text x="224.0" y="256.0" font-size="70" fill="#000" text-anchor="start" >LiDS</text>
<text x="225.2" y="342.0" font-size="70" fill="#000" text-anchor="start" >0 mM LiCl</text>
<text x="845.2" y="256.0" font-size="70" fill="#000" text-anchor="start" >LiDS</text>
<text x="848.2" y="342.0" font-size="70" fill="#000" text-anchor="start" >5 mM LiCl</text>
<text x="1563.8" y="545.5" font-size="70" fill="#000" text-anchor="start" >LiDS</text>
<text x="1563.8" y="632.8" font-size="70" fill="#000" text-anchor="start" >25 mM LiCl</text>
<text x="225.3" y="817.4" font-size="70" fill="#000" text-anchor="start" >SDS</text>
<text x="226.3" y="903.7" font-size="70" fill="#000" text-anchor="start" >0 mM NaCl</text>
<text x="945.3" y="1139.5" font-size="70" fill="#000" text-anchor="start" >SDS</text>
<text x="945.3" y="1225.8" font-size="70" fill="#000" text-anchor="start" >5 mM NaCl</text>
<text x="1544.8" y="1143.5" font-size="70" fill="#000" text-anchor="start" >SDS</text>
<text x="1543.7" y="1230.0" font-size="70" fill="#000" text-anchor="start" >25 mM NaCl</text>
<text x="382.9" y="1718.5" font-size="70" fill="#000" text-anchor="start" >CsDS</text>
<text x="382.9" y="1804.8" font-size="70" fill="#000" text-anchor="start" >0 mM CsCl</text>
<text x="950.0" y="1717.7" font-size="70" fill="#000" text-anchor="start" >CsDS</text>
<text x="950.0" y="1805.2" font-size="70" fill="#000" text-anchor="start" >5 mM CsCl</text>
<text x="1548.9" y="1717.7" font-size="70" fill="#000" text-anchor="start" >CsDS</text>
<text x="1547.9" y="1804.2" font-size="70" fill="#000" text-anchor="start" >25 mM CsCl</text>
<text x="683.5" y="2121.6" font-size="85.5" fill="#000" text-anchor="start" >DS<tspan font-size="50" dy="-35">-</tspan><tspan dy="35"> concentration / mM</tspan></text>
<text transform="translate(116,1353) rotate(-90)" font-size="86" fill="#000">SFG amplitude / a.u.</text>
<text transform="translate(2311,1330.6) rotate(-90)" font-size="86" fill="#ff4040">Frequency ω<tspan font-size="56" dy="21" dx="-10">q</tspan><tspan dy="-21"> / cm</tspan><tspan font-size="56" dy="-35">-1</tspan></text>
</svg></body></html>
